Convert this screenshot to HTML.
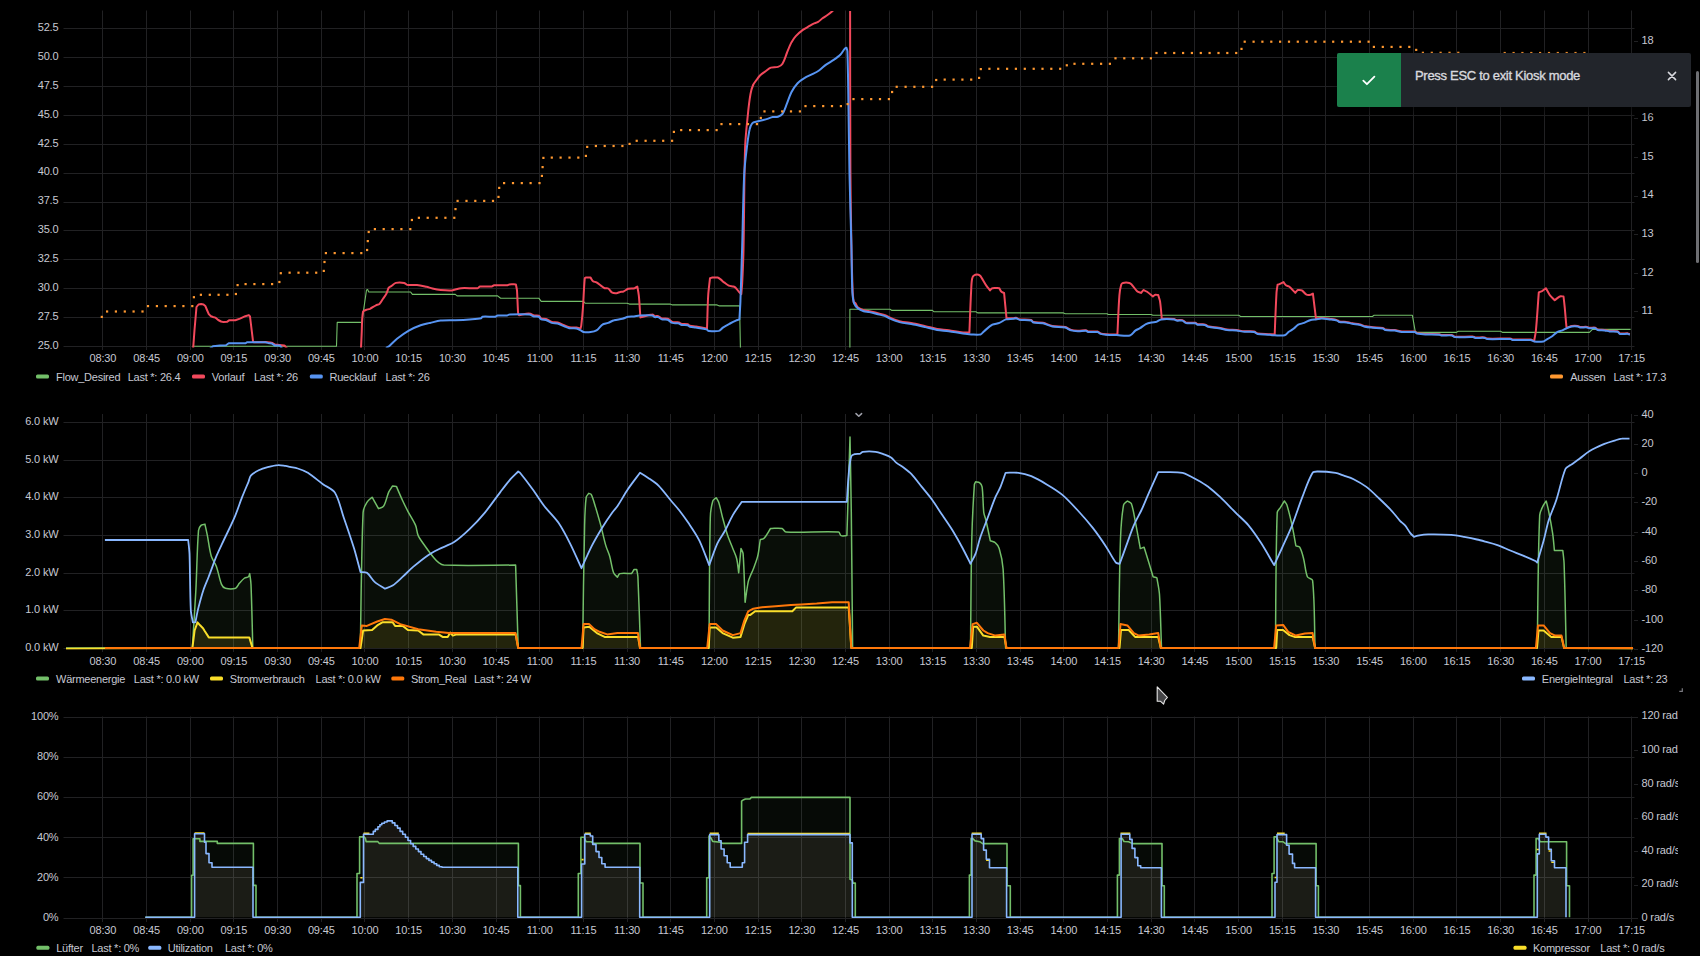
<!DOCTYPE html>
<html><head><meta charset="utf-8"><title>Grafana Kiosk</title>
<style>
html,body{margin:0;padding:0;background:#000;overflow:hidden;width:1700px;height:956px}
svg{display:block}
.ax{font-family:'Liberation Sans', Arial, sans-serif;font-size:11px;fill:#c7c8d2;letter-spacing:-0.15px}
.lg{font-family:'Liberation Sans', Arial, sans-serif;font-size:11px;fill:#c7c8d2;letter-spacing:-0.25px}
.toast{position:absolute;left:1337px;top:53px;width:354px;height:54px;background:#22252b;border-radius:2px;overflow:hidden;font-family:'Liberation Sans', Arial, sans-serif;box-shadow:0 4px 8px rgba(0,0,0,.6)}
.toast .ic{position:absolute;left:0;top:0;width:64px;height:54px;background:#1b814c}
.toast .msg{position:absolute;left:78px;top:15px;font-size:13px;color:#d8d9de;letter-spacing:-0.3px;white-space:nowrap;-webkit-text-stroke:0.35px #d8d9de}
.toast .x{position:absolute;left:328px;top:15.5px;width:14px;height:14px}
.sb{position:absolute;left:1696px;top:71px;width:3px;height:192px;background:#6e6f73;border-radius:2px}
</style></head><body>
<svg width="1700" height="956" viewBox="0 0 1700 956" style="position:absolute;left:0;top:0">
<defs><clipPath id="rclip"><rect x="1600" y="690" width="78" height="240"/></clipPath></defs>
<rect width="1700" height="956" fill="#000"/>
<line x1="102.50" y1="10.5" x2="102.50" y2="350" stroke="#212123"/>
<line x1="146.50" y1="10.5" x2="146.50" y2="350" stroke="#212123"/>
<line x1="190.50" y1="10.5" x2="190.50" y2="350" stroke="#212123"/>
<line x1="233.50" y1="10.5" x2="233.50" y2="350" stroke="#212123"/>
<line x1="277.50" y1="10.5" x2="277.50" y2="350" stroke="#212123"/>
<line x1="321.50" y1="10.5" x2="321.50" y2="350" stroke="#212123"/>
<line x1="364.50" y1="10.5" x2="364.50" y2="350" stroke="#212123"/>
<line x1="408.50" y1="10.5" x2="408.50" y2="350" stroke="#212123"/>
<line x1="452.50" y1="10.5" x2="452.50" y2="350" stroke="#212123"/>
<line x1="496.50" y1="10.5" x2="496.50" y2="350" stroke="#212123"/>
<line x1="539.50" y1="10.5" x2="539.50" y2="350" stroke="#212123"/>
<line x1="583.50" y1="10.5" x2="583.50" y2="350" stroke="#212123"/>
<line x1="627.50" y1="10.5" x2="627.50" y2="350" stroke="#212123"/>
<line x1="670.50" y1="10.5" x2="670.50" y2="350" stroke="#212123"/>
<line x1="714.50" y1="10.5" x2="714.50" y2="350" stroke="#212123"/>
<line x1="758.50" y1="10.5" x2="758.50" y2="350" stroke="#212123"/>
<line x1="801.50" y1="10.5" x2="801.50" y2="350" stroke="#212123"/>
<line x1="845.50" y1="10.5" x2="845.50" y2="350" stroke="#212123"/>
<line x1="889.50" y1="10.5" x2="889.50" y2="350" stroke="#212123"/>
<line x1="932.50" y1="10.5" x2="932.50" y2="350" stroke="#212123"/>
<line x1="976.50" y1="10.5" x2="976.50" y2="350" stroke="#212123"/>
<line x1="1020.50" y1="10.5" x2="1020.50" y2="350" stroke="#212123"/>
<line x1="1063.50" y1="10.5" x2="1063.50" y2="350" stroke="#212123"/>
<line x1="1107.50" y1="10.5" x2="1107.50" y2="350" stroke="#212123"/>
<line x1="1151.50" y1="10.5" x2="1151.50" y2="350" stroke="#212123"/>
<line x1="1194.50" y1="10.5" x2="1194.50" y2="350" stroke="#212123"/>
<line x1="1238.50" y1="10.5" x2="1238.50" y2="350" stroke="#212123"/>
<line x1="1282.50" y1="10.5" x2="1282.50" y2="350" stroke="#212123"/>
<line x1="1325.50" y1="10.5" x2="1325.50" y2="350" stroke="#212123"/>
<line x1="1369.50" y1="10.5" x2="1369.50" y2="350" stroke="#212123"/>
<line x1="1413.50" y1="10.5" x2="1413.50" y2="350" stroke="#212123"/>
<line x1="1456.50" y1="10.5" x2="1456.50" y2="350" stroke="#212123"/>
<line x1="1500.50" y1="10.5" x2="1500.50" y2="350" stroke="#212123"/>
<line x1="1544.50" y1="10.5" x2="1544.50" y2="350" stroke="#212123"/>
<line x1="1588.50" y1="10.5" x2="1588.50" y2="350" stroke="#212123"/>
<line x1="1631.50" y1="10.5" x2="1631.50" y2="350" stroke="#212123"/>
<line x1="63.5" y1="346.50" x2="1634.5" y2="346.50" stroke="#212123"/>
<line x1="63.5" y1="317.50" x2="1634.5" y2="317.50" stroke="#212123"/>
<line x1="63.5" y1="288.50" x2="1634.5" y2="288.50" stroke="#212123"/>
<line x1="63.5" y1="259.50" x2="1634.5" y2="259.50" stroke="#212123"/>
<line x1="63.5" y1="230.50" x2="1634.5" y2="230.50" stroke="#212123"/>
<line x1="63.5" y1="202.50" x2="1634.5" y2="202.50" stroke="#212123"/>
<line x1="63.5" y1="173.50" x2="1634.5" y2="173.50" stroke="#212123"/>
<line x1="63.5" y1="144.50" x2="1634.5" y2="144.50" stroke="#212123"/>
<line x1="63.5" y1="115.50" x2="1634.5" y2="115.50" stroke="#212123"/>
<line x1="63.5" y1="86.50" x2="1634.5" y2="86.50" stroke="#212123"/>
<line x1="63.5" y1="57.50" x2="1634.5" y2="57.50" stroke="#212123"/>
<line x1="63.5" y1="28.50" x2="1634.5" y2="28.50" stroke="#212123"/>
<text x="58.5" y="348.8" text-anchor="end" class="ax">25.0</text>
<text x="58.5" y="319.9" text-anchor="end" class="ax">27.5</text>
<text x="58.5" y="291.0" text-anchor="end" class="ax">30.0</text>
<text x="58.5" y="262.1" text-anchor="end" class="ax">32.5</text>
<text x="58.5" y="233.2" text-anchor="end" class="ax">35.0</text>
<text x="58.5" y="204.3" text-anchor="end" class="ax">37.5</text>
<text x="58.5" y="175.4" text-anchor="end" class="ax">40.0</text>
<text x="58.5" y="146.5" text-anchor="end" class="ax">42.5</text>
<text x="58.5" y="117.6" text-anchor="end" class="ax">45.0</text>
<text x="58.5" y="88.7" text-anchor="end" class="ax">47.5</text>
<text x="58.5" y="59.8" text-anchor="end" class="ax">50.0</text>
<text x="58.5" y="30.9" text-anchor="end" class="ax">52.5</text>
<line x1="1634" y1="311.5" x2="1638" y2="311.5" stroke="#212123"/>
<text x="1641.5" y="314.1" class="ax">11</text>
<line x1="1634" y1="273.5" x2="1638" y2="273.5" stroke="#212123"/>
<text x="1641.5" y="275.5" class="ax">12</text>
<line x1="1634" y1="234.5" x2="1638" y2="234.5" stroke="#212123"/>
<text x="1641.5" y="236.8" class="ax">13</text>
<line x1="1634" y1="196.5" x2="1638" y2="196.5" stroke="#212123"/>
<text x="1641.5" y="198.2" class="ax">14</text>
<line x1="1634" y1="157.5" x2="1638" y2="157.5" stroke="#212123"/>
<text x="1641.5" y="159.5" class="ax">15</text>
<line x1="1634" y1="118.5" x2="1638" y2="118.5" stroke="#212123"/>
<text x="1641.5" y="120.8" class="ax">16</text>
<line x1="1634" y1="80.5" x2="1638" y2="80.5" stroke="#212123"/>
<text x="1641.5" y="82.2" class="ax">17</text>
<line x1="1634" y1="41.5" x2="1638" y2="41.5" stroke="#212123"/>
<text x="1641.5" y="43.5" class="ax">18</text>
<text x="102.9" y="362" text-anchor="middle" class="ax">08:30</text>
<text x="146.6" y="362" text-anchor="middle" class="ax">08:45</text>
<text x="190.3" y="362" text-anchor="middle" class="ax">09:00</text>
<text x="233.9" y="362" text-anchor="middle" class="ax">09:15</text>
<text x="277.6" y="362" text-anchor="middle" class="ax">09:30</text>
<text x="321.3" y="362" text-anchor="middle" class="ax">09:45</text>
<text x="365.0" y="362" text-anchor="middle" class="ax">10:00</text>
<text x="408.7" y="362" text-anchor="middle" class="ax">10:15</text>
<text x="452.3" y="362" text-anchor="middle" class="ax">10:30</text>
<text x="496.0" y="362" text-anchor="middle" class="ax">10:45</text>
<text x="539.7" y="362" text-anchor="middle" class="ax">11:00</text>
<text x="583.4" y="362" text-anchor="middle" class="ax">11:15</text>
<text x="627.1" y="362" text-anchor="middle" class="ax">11:30</text>
<text x="670.7" y="362" text-anchor="middle" class="ax">11:45</text>
<text x="714.4" y="362" text-anchor="middle" class="ax">12:00</text>
<text x="758.1" y="362" text-anchor="middle" class="ax">12:15</text>
<text x="801.8" y="362" text-anchor="middle" class="ax">12:30</text>
<text x="845.5" y="362" text-anchor="middle" class="ax">12:45</text>
<text x="889.1" y="362" text-anchor="middle" class="ax">13:00</text>
<text x="932.8" y="362" text-anchor="middle" class="ax">13:15</text>
<text x="976.5" y="362" text-anchor="middle" class="ax">13:30</text>
<text x="1020.2" y="362" text-anchor="middle" class="ax">13:45</text>
<text x="1063.9" y="362" text-anchor="middle" class="ax">14:00</text>
<text x="1107.5" y="362" text-anchor="middle" class="ax">14:15</text>
<text x="1151.2" y="362" text-anchor="middle" class="ax">14:30</text>
<text x="1194.9" y="362" text-anchor="middle" class="ax">14:45</text>
<text x="1238.6" y="362" text-anchor="middle" class="ax">15:00</text>
<text x="1282.3" y="362" text-anchor="middle" class="ax">15:15</text>
<text x="1325.9" y="362" text-anchor="middle" class="ax">15:30</text>
<text x="1369.6" y="362" text-anchor="middle" class="ax">15:45</text>
<text x="1413.3" y="362" text-anchor="middle" class="ax">16:00</text>
<text x="1457.0" y="362" text-anchor="middle" class="ax">16:15</text>
<text x="1500.7" y="362" text-anchor="middle" class="ax">16:30</text>
<text x="1544.3" y="362" text-anchor="middle" class="ax">16:45</text>
<text x="1588.0" y="362" text-anchor="middle" class="ax">17:00</text>
<text x="1631.7" y="362" text-anchor="middle" class="ax">17:15</text>
<rect x="36" y="374.5" width="13" height="4" rx="1.5" fill="#73BF69"/>
<text x="56" y="381" class="lg">Flow_Desired</text>
<text x="127.7" y="381" class="lg">Last *: 26.4</text>
<rect x="192" y="374.5" width="13" height="4" rx="1.5" fill="#F2495C"/>
<text x="211.8" y="381" class="lg">Vorlauf</text>
<text x="254" y="381" class="lg">Last *: 26</text>
<rect x="309.8" y="374.5" width="13" height="4" rx="1.5" fill="#5794F2"/>
<text x="329.5" y="381" class="lg">Ruecklauf</text>
<text x="385.6" y="381" class="lg">Last *: 26</text>
<rect x="1550" y="374.5" width="13" height="4" rx="1.5" fill="#FF9830"/>
<text x="1570.2" y="381" class="lg">Aussen</text>
<text x="1613.5" y="381" class="lg">Last *: 17.3</text>
<line x1="102.50" y1="414" x2="102.50" y2="652" stroke="#212123"/>
<line x1="146.50" y1="414" x2="146.50" y2="652" stroke="#212123"/>
<line x1="190.50" y1="414" x2="190.50" y2="652" stroke="#212123"/>
<line x1="233.50" y1="414" x2="233.50" y2="652" stroke="#212123"/>
<line x1="277.50" y1="414" x2="277.50" y2="652" stroke="#212123"/>
<line x1="321.50" y1="414" x2="321.50" y2="652" stroke="#212123"/>
<line x1="364.50" y1="414" x2="364.50" y2="652" stroke="#212123"/>
<line x1="408.50" y1="414" x2="408.50" y2="652" stroke="#212123"/>
<line x1="452.50" y1="414" x2="452.50" y2="652" stroke="#212123"/>
<line x1="496.50" y1="414" x2="496.50" y2="652" stroke="#212123"/>
<line x1="539.50" y1="414" x2="539.50" y2="652" stroke="#212123"/>
<line x1="583.50" y1="414" x2="583.50" y2="652" stroke="#212123"/>
<line x1="627.50" y1="414" x2="627.50" y2="652" stroke="#212123"/>
<line x1="670.50" y1="414" x2="670.50" y2="652" stroke="#212123"/>
<line x1="714.50" y1="414" x2="714.50" y2="652" stroke="#212123"/>
<line x1="758.50" y1="414" x2="758.50" y2="652" stroke="#212123"/>
<line x1="801.50" y1="414" x2="801.50" y2="652" stroke="#212123"/>
<line x1="845.50" y1="414" x2="845.50" y2="652" stroke="#212123"/>
<line x1="889.50" y1="414" x2="889.50" y2="652" stroke="#212123"/>
<line x1="932.50" y1="414" x2="932.50" y2="652" stroke="#212123"/>
<line x1="976.50" y1="414" x2="976.50" y2="652" stroke="#212123"/>
<line x1="1020.50" y1="414" x2="1020.50" y2="652" stroke="#212123"/>
<line x1="1063.50" y1="414" x2="1063.50" y2="652" stroke="#212123"/>
<line x1="1107.50" y1="414" x2="1107.50" y2="652" stroke="#212123"/>
<line x1="1151.50" y1="414" x2="1151.50" y2="652" stroke="#212123"/>
<line x1="1194.50" y1="414" x2="1194.50" y2="652" stroke="#212123"/>
<line x1="1238.50" y1="414" x2="1238.50" y2="652" stroke="#212123"/>
<line x1="1282.50" y1="414" x2="1282.50" y2="652" stroke="#212123"/>
<line x1="1325.50" y1="414" x2="1325.50" y2="652" stroke="#212123"/>
<line x1="1369.50" y1="414" x2="1369.50" y2="652" stroke="#212123"/>
<line x1="1413.50" y1="414" x2="1413.50" y2="652" stroke="#212123"/>
<line x1="1456.50" y1="414" x2="1456.50" y2="652" stroke="#212123"/>
<line x1="1500.50" y1="414" x2="1500.50" y2="652" stroke="#212123"/>
<line x1="1544.50" y1="414" x2="1544.50" y2="652" stroke="#212123"/>
<line x1="1588.50" y1="414" x2="1588.50" y2="652" stroke="#212123"/>
<line x1="1631.50" y1="414" x2="1631.50" y2="652" stroke="#212123"/>
<line x1="63.5" y1="648.50" x2="1634.5" y2="648.50" stroke="#212123"/>
<line x1="63.5" y1="610.50" x2="1634.5" y2="610.50" stroke="#212123"/>
<line x1="63.5" y1="573.50" x2="1634.5" y2="573.50" stroke="#212123"/>
<line x1="63.5" y1="535.50" x2="1634.5" y2="535.50" stroke="#212123"/>
<line x1="63.5" y1="497.50" x2="1634.5" y2="497.50" stroke="#212123"/>
<line x1="63.5" y1="460.50" x2="1634.5" y2="460.50" stroke="#212123"/>
<line x1="63.5" y1="422.50" x2="1634.5" y2="422.50" stroke="#212123"/>
<text x="58.5" y="651.0" text-anchor="end" class="ax">0.0 kW</text>
<text x="58.5" y="613.3" text-anchor="end" class="ax">1.0 kW</text>
<text x="58.5" y="575.6" text-anchor="end" class="ax">2.0 kW</text>
<text x="58.5" y="538.0" text-anchor="end" class="ax">3.0 kW</text>
<text x="58.5" y="500.3" text-anchor="end" class="ax">4.0 kW</text>
<text x="58.5" y="462.6" text-anchor="end" class="ax">5.0 kW</text>
<text x="58.5" y="424.9" text-anchor="end" class="ax">6.0 kW</text>
<line x1="1634" y1="415.5" x2="1638" y2="415.5" stroke="#212123"/>
<text x="1641.5" y="417.5" class="ax">40</text>
<line x1="1634" y1="444.5" x2="1638" y2="444.5" stroke="#212123"/>
<text x="1641.5" y="446.8" class="ax">20</text>
<line x1="1634" y1="473.5" x2="1638" y2="473.5" stroke="#212123"/>
<text x="1641.5" y="476.1" class="ax">0</text>
<line x1="1634" y1="502.5" x2="1638" y2="502.5" stroke="#212123"/>
<text x="1641.5" y="505.4" class="ax">-20</text>
<line x1="1634" y1="532.5" x2="1638" y2="532.5" stroke="#212123"/>
<text x="1641.5" y="534.8" class="ax">-40</text>
<line x1="1634" y1="561.5" x2="1638" y2="561.5" stroke="#212123"/>
<text x="1641.5" y="564.1" class="ax">-60</text>
<line x1="1634" y1="590.5" x2="1638" y2="590.5" stroke="#212123"/>
<text x="1641.5" y="593.4" class="ax">-80</text>
<line x1="1634" y1="620.5" x2="1638" y2="620.5" stroke="#212123"/>
<text x="1641.5" y="622.7" class="ax">-100</text>
<line x1="1634" y1="649.5" x2="1638" y2="649.5" stroke="#212123"/>
<text x="1641.5" y="652.0" class="ax">-120</text>
<text x="102.9" y="665" text-anchor="middle" class="ax">08:30</text>
<text x="146.6" y="665" text-anchor="middle" class="ax">08:45</text>
<text x="190.3" y="665" text-anchor="middle" class="ax">09:00</text>
<text x="233.9" y="665" text-anchor="middle" class="ax">09:15</text>
<text x="277.6" y="665" text-anchor="middle" class="ax">09:30</text>
<text x="321.3" y="665" text-anchor="middle" class="ax">09:45</text>
<text x="365.0" y="665" text-anchor="middle" class="ax">10:00</text>
<text x="408.7" y="665" text-anchor="middle" class="ax">10:15</text>
<text x="452.3" y="665" text-anchor="middle" class="ax">10:30</text>
<text x="496.0" y="665" text-anchor="middle" class="ax">10:45</text>
<text x="539.7" y="665" text-anchor="middle" class="ax">11:00</text>
<text x="583.4" y="665" text-anchor="middle" class="ax">11:15</text>
<text x="627.1" y="665" text-anchor="middle" class="ax">11:30</text>
<text x="670.7" y="665" text-anchor="middle" class="ax">11:45</text>
<text x="714.4" y="665" text-anchor="middle" class="ax">12:00</text>
<text x="758.1" y="665" text-anchor="middle" class="ax">12:15</text>
<text x="801.8" y="665" text-anchor="middle" class="ax">12:30</text>
<text x="845.5" y="665" text-anchor="middle" class="ax">12:45</text>
<text x="889.1" y="665" text-anchor="middle" class="ax">13:00</text>
<text x="932.8" y="665" text-anchor="middle" class="ax">13:15</text>
<text x="976.5" y="665" text-anchor="middle" class="ax">13:30</text>
<text x="1020.2" y="665" text-anchor="middle" class="ax">13:45</text>
<text x="1063.9" y="665" text-anchor="middle" class="ax">14:00</text>
<text x="1107.5" y="665" text-anchor="middle" class="ax">14:15</text>
<text x="1151.2" y="665" text-anchor="middle" class="ax">14:30</text>
<text x="1194.9" y="665" text-anchor="middle" class="ax">14:45</text>
<text x="1238.6" y="665" text-anchor="middle" class="ax">15:00</text>
<text x="1282.3" y="665" text-anchor="middle" class="ax">15:15</text>
<text x="1325.9" y="665" text-anchor="middle" class="ax">15:30</text>
<text x="1369.6" y="665" text-anchor="middle" class="ax">15:45</text>
<text x="1413.3" y="665" text-anchor="middle" class="ax">16:00</text>
<text x="1457.0" y="665" text-anchor="middle" class="ax">16:15</text>
<text x="1500.7" y="665" text-anchor="middle" class="ax">16:30</text>
<text x="1544.3" y="665" text-anchor="middle" class="ax">16:45</text>
<text x="1588.0" y="665" text-anchor="middle" class="ax">17:00</text>
<text x="1631.7" y="665" text-anchor="middle" class="ax">17:15</text>
<rect x="36" y="676.5" width="13" height="4" rx="1.5" fill="#73BF69"/>
<text x="56" y="683" class="lg">Wärmeenergie</text>
<text x="133.8" y="683" class="lg">Last *: 0.0 kW</text>
<rect x="210" y="676.5" width="13" height="4" rx="1.5" fill="#FADE2A"/>
<text x="229.8" y="683" class="lg">Stromverbrauch</text>
<text x="315.6" y="683" class="lg">Last *: 0.0 kW</text>
<rect x="391.3" y="676.5" width="13" height="4" rx="1.5" fill="#FF780A"/>
<text x="410.9" y="683" class="lg">Strom_Real</text>
<text x="474" y="683" class="lg">Last *: 24 W</text>
<rect x="1522" y="676.5" width="13" height="4" rx="1.5" fill="#8AB8FF"/>
<text x="1541.8" y="683" class="lg">EnergieIntegral</text>
<text x="1623.5" y="683" class="lg">Last *: 23</text>
<line x1="102.50" y1="716.5" x2="102.50" y2="922" stroke="#212123"/>
<line x1="146.50" y1="716.5" x2="146.50" y2="922" stroke="#212123"/>
<line x1="190.50" y1="716.5" x2="190.50" y2="922" stroke="#212123"/>
<line x1="233.50" y1="716.5" x2="233.50" y2="922" stroke="#212123"/>
<line x1="277.50" y1="716.5" x2="277.50" y2="922" stroke="#212123"/>
<line x1="321.50" y1="716.5" x2="321.50" y2="922" stroke="#212123"/>
<line x1="364.50" y1="716.5" x2="364.50" y2="922" stroke="#212123"/>
<line x1="408.50" y1="716.5" x2="408.50" y2="922" stroke="#212123"/>
<line x1="452.50" y1="716.5" x2="452.50" y2="922" stroke="#212123"/>
<line x1="496.50" y1="716.5" x2="496.50" y2="922" stroke="#212123"/>
<line x1="539.50" y1="716.5" x2="539.50" y2="922" stroke="#212123"/>
<line x1="583.50" y1="716.5" x2="583.50" y2="922" stroke="#212123"/>
<line x1="627.50" y1="716.5" x2="627.50" y2="922" stroke="#212123"/>
<line x1="670.50" y1="716.5" x2="670.50" y2="922" stroke="#212123"/>
<line x1="714.50" y1="716.5" x2="714.50" y2="922" stroke="#212123"/>
<line x1="758.50" y1="716.5" x2="758.50" y2="922" stroke="#212123"/>
<line x1="801.50" y1="716.5" x2="801.50" y2="922" stroke="#212123"/>
<line x1="845.50" y1="716.5" x2="845.50" y2="922" stroke="#212123"/>
<line x1="889.50" y1="716.5" x2="889.50" y2="922" stroke="#212123"/>
<line x1="932.50" y1="716.5" x2="932.50" y2="922" stroke="#212123"/>
<line x1="976.50" y1="716.5" x2="976.50" y2="922" stroke="#212123"/>
<line x1="1020.50" y1="716.5" x2="1020.50" y2="922" stroke="#212123"/>
<line x1="1063.50" y1="716.5" x2="1063.50" y2="922" stroke="#212123"/>
<line x1="1107.50" y1="716.5" x2="1107.50" y2="922" stroke="#212123"/>
<line x1="1151.50" y1="716.5" x2="1151.50" y2="922" stroke="#212123"/>
<line x1="1194.50" y1="716.5" x2="1194.50" y2="922" stroke="#212123"/>
<line x1="1238.50" y1="716.5" x2="1238.50" y2="922" stroke="#212123"/>
<line x1="1282.50" y1="716.5" x2="1282.50" y2="922" stroke="#212123"/>
<line x1="1325.50" y1="716.5" x2="1325.50" y2="922" stroke="#212123"/>
<line x1="1369.50" y1="716.5" x2="1369.50" y2="922" stroke="#212123"/>
<line x1="1413.50" y1="716.5" x2="1413.50" y2="922" stroke="#212123"/>
<line x1="1456.50" y1="716.5" x2="1456.50" y2="922" stroke="#212123"/>
<line x1="1500.50" y1="716.5" x2="1500.50" y2="922" stroke="#212123"/>
<line x1="1544.50" y1="716.5" x2="1544.50" y2="922" stroke="#212123"/>
<line x1="1588.50" y1="716.5" x2="1588.50" y2="922" stroke="#212123"/>
<line x1="1631.50" y1="716.5" x2="1631.50" y2="922" stroke="#212123"/>
<line x1="63.5" y1="918.50" x2="1634.5" y2="918.50" stroke="#212123"/>
<line x1="63.5" y1="877.50" x2="1634.5" y2="877.50" stroke="#212123"/>
<line x1="63.5" y1="837.50" x2="1634.5" y2="837.50" stroke="#212123"/>
<line x1="63.5" y1="797.50" x2="1634.5" y2="797.50" stroke="#212123"/>
<line x1="63.5" y1="757.50" x2="1634.5" y2="757.50" stroke="#212123"/>
<line x1="63.5" y1="717.50" x2="1634.5" y2="717.50" stroke="#212123"/>
<text x="58.5" y="921.0" text-anchor="end" class="ax">0%</text>
<text x="58.5" y="880.8" text-anchor="end" class="ax">20%</text>
<text x="58.5" y="840.6" text-anchor="end" class="ax">40%</text>
<text x="58.5" y="800.4" text-anchor="end" class="ax">60%</text>
<text x="58.5" y="760.2" text-anchor="end" class="ax">80%</text>
<text x="58.5" y="720.0" text-anchor="end" class="ax">100%</text>
<line x1="1634" y1="918.5" x2="1638" y2="918.5" stroke="#212123"/>
<text x="1641.5" y="920.8" class="ax" clip-path="url(#rclip)">0 rad/s</text>
<line x1="1634" y1="885.5" x2="1638" y2="885.5" stroke="#212123"/>
<text x="1641.5" y="887.2" class="ax" clip-path="url(#rclip)">20 rad/s</text>
<line x1="1634" y1="851.5" x2="1638" y2="851.5" stroke="#212123"/>
<text x="1641.5" y="853.7" class="ax" clip-path="url(#rclip)">40 rad/s</text>
<line x1="1634" y1="818.5" x2="1638" y2="818.5" stroke="#212123"/>
<text x="1641.5" y="820.1" class="ax" clip-path="url(#rclip)">60 rad/s</text>
<line x1="1634" y1="784.5" x2="1638" y2="784.5" stroke="#212123"/>
<text x="1641.5" y="786.5" class="ax" clip-path="url(#rclip)">80 rad/s</text>
<line x1="1634" y1="750.5" x2="1638" y2="750.5" stroke="#212123"/>
<text x="1641.5" y="753.0" class="ax" clip-path="url(#rclip)">100 rad/s</text>
<line x1="1634" y1="717.5" x2="1638" y2="717.5" stroke="#212123"/>
<text x="1641.5" y="719.4" class="ax" clip-path="url(#rclip)">120 rad/s</text>
<text x="102.9" y="934" text-anchor="middle" class="ax">08:30</text>
<text x="146.6" y="934" text-anchor="middle" class="ax">08:45</text>
<text x="190.3" y="934" text-anchor="middle" class="ax">09:00</text>
<text x="233.9" y="934" text-anchor="middle" class="ax">09:15</text>
<text x="277.6" y="934" text-anchor="middle" class="ax">09:30</text>
<text x="321.3" y="934" text-anchor="middle" class="ax">09:45</text>
<text x="365.0" y="934" text-anchor="middle" class="ax">10:00</text>
<text x="408.7" y="934" text-anchor="middle" class="ax">10:15</text>
<text x="452.3" y="934" text-anchor="middle" class="ax">10:30</text>
<text x="496.0" y="934" text-anchor="middle" class="ax">10:45</text>
<text x="539.7" y="934" text-anchor="middle" class="ax">11:00</text>
<text x="583.4" y="934" text-anchor="middle" class="ax">11:15</text>
<text x="627.1" y="934" text-anchor="middle" class="ax">11:30</text>
<text x="670.7" y="934" text-anchor="middle" class="ax">11:45</text>
<text x="714.4" y="934" text-anchor="middle" class="ax">12:00</text>
<text x="758.1" y="934" text-anchor="middle" class="ax">12:15</text>
<text x="801.8" y="934" text-anchor="middle" class="ax">12:30</text>
<text x="845.5" y="934" text-anchor="middle" class="ax">12:45</text>
<text x="889.1" y="934" text-anchor="middle" class="ax">13:00</text>
<text x="932.8" y="934" text-anchor="middle" class="ax">13:15</text>
<text x="976.5" y="934" text-anchor="middle" class="ax">13:30</text>
<text x="1020.2" y="934" text-anchor="middle" class="ax">13:45</text>
<text x="1063.9" y="934" text-anchor="middle" class="ax">14:00</text>
<text x="1107.5" y="934" text-anchor="middle" class="ax">14:15</text>
<text x="1151.2" y="934" text-anchor="middle" class="ax">14:30</text>
<text x="1194.9" y="934" text-anchor="middle" class="ax">14:45</text>
<text x="1238.6" y="934" text-anchor="middle" class="ax">15:00</text>
<text x="1282.3" y="934" text-anchor="middle" class="ax">15:15</text>
<text x="1325.9" y="934" text-anchor="middle" class="ax">15:30</text>
<text x="1369.6" y="934" text-anchor="middle" class="ax">15:45</text>
<text x="1413.3" y="934" text-anchor="middle" class="ax">16:00</text>
<text x="1457.0" y="934" text-anchor="middle" class="ax">16:15</text>
<text x="1500.7" y="934" text-anchor="middle" class="ax">16:30</text>
<text x="1544.3" y="934" text-anchor="middle" class="ax">16:45</text>
<text x="1588.0" y="934" text-anchor="middle" class="ax">17:00</text>
<text x="1631.7" y="934" text-anchor="middle" class="ax">17:15</text>
<rect x="36.4" y="945.8" width="13" height="4" rx="1.5" fill="#73BF69"/>
<text x="56.2" y="952.3" class="lg">Lüfter</text>
<text x="91.5" y="952.3" class="lg">Last *: 0%</text>
<rect x="148.3" y="945.8" width="13" height="4" rx="1.5" fill="#8AB8FF"/>
<text x="167.7" y="952.3" class="lg">Utilization</text>
<text x="224.9" y="952.3" class="lg">Last *: 0%</text>
<rect x="1513.5" y="945.8" width="13" height="4" rx="1.5" fill="#FADE2A"/>
<text x="1533" y="952.3" class="lg">Kompressor</text>
<text x="1600.3" y="952.3" class="lg">Last *: 0 rad/s</text>
<defs><clipPath id="c1"><rect x="63" y="11" width="1571" height="336.5"/></clipPath><clipPath id="c2"><rect x="63" y="413" width="1571" height="236.5"/></clipPath><clipPath id="c3"><rect x="63" y="716" width="1571" height="202.5"/></clipPath></defs>
<g clip-path="url(#c1)">
<polyline points="192.4,346.3 336.5,346.3 337.2,322.4 361.8,322.4 366.5,290.0 367.6,289.6 368.8,292.0 410.6,292.0 412.4,294.4 455.3,294.4 457.1,295.9 497.6,295.9 500.6,298.2 538.8,298.2 541.2,301.4 583.5,301.4 585.3,303.3 627.1,303.3 629.4,304.1 670.0,304.1 672.4,304.9 717.1,304.9 719.4,305.9 739.6,305.9 740.4,347.5 741.0,350.0 849.5,350.0 849.9,347.5 849.9,309.3 890.0,309.3 891.9,310.4 932.4,310.4 934.1,311.8 975.9,311.8 977.6,312.9 1063.5,312.9 1065.3,313.7 1107.1,313.7 1108.2,314.5 1151.2,314.5 1152.9,315.3 1238.8,315.3 1240.6,316.5 1372.4,316.5 1374.1,315.3 1412.4,315.3 1415.3,331.8 1417.1,332.4 1456.5,332.4 1458.2,331.2 1500.6,331.2 1502.4,332.4 1589.4,332.4 1592.4,329.4 1630.6,329.4" fill="none" stroke="#73BF69" stroke-width="1.1" stroke-linejoin="round"/>
<polyline points="193.2,348.0 194.5,330.0 196.5,307.0 198.5,304.5 201.2,304.1 203.5,304.4 205.3,305.9 207.0,310.0 208.8,314.1 211.0,316.3 213.0,317.0 215.3,317.6 218.2,320.0 221.0,321.5 223.5,322.1 227.0,321.8 229.4,320.2 235.3,320.2 240.0,318.6 245.3,316.2 248.8,315.1 250.0,316.5 253.0,341.2 253.6,342.2 265.4,342.0 270.0,342.4 272.5,343.0 275.0,344.6 279.5,345.0 284.4,345.5 287.0,348.5" fill="none" stroke="#F2495C" stroke-width="2" stroke-linejoin="round"/>
<path d="M361.0,348.0 C361.2,344.1 361.4,338.9 361.6,335.0 C362.0,328.0 361.8,318.7 363.0,311.8 C363.2,310.8 365.0,310.4 365.9,310.0 C367.1,309.5 368.8,309.3 370.0,308.8 C371.9,307.9 374.1,306.2 375.9,305.3 C376.9,304.8 378.6,304.8 379.4,304.1 C380.8,302.8 381.9,300.4 383.0,298.8 C384.1,297.2 385.6,295.2 386.5,293.5 C387.4,291.8 387.8,289.2 388.8,287.6 C389.3,286.9 390.5,286.6 391.2,286.1 C392.6,285.2 394.2,283.3 395.9,282.9 C398.3,282.3 401.7,282.5 404.1,282.9 C405.1,283.1 406.0,284.5 407.0,284.7 C410.0,285.2 414.0,284.7 417.0,285.0 C419.9,285.3 423.7,286.2 426.5,286.8 C428.3,287.2 430.6,288.1 432.4,288.5 C434.8,289.1 438.1,289.8 440.6,290.0 C443.9,290.3 448.5,290.7 451.8,290.4 C454.7,290.1 458.3,288.4 461.2,288.2 C466.1,287.8 472.7,288.6 477.6,288.2 C478.5,288.1 479.1,286.6 480.0,286.5 C483.5,286.1 488.3,286.8 491.8,286.5 C492.6,286.4 493.3,285.4 494.1,285.3 C498.0,285.0 503.1,285.5 507.0,285.3 C507.8,285.3 508.6,284.5 509.4,284.4 C511.3,284.2 513.9,284.4 515.9,284.4 C516.2,286.3 516.9,288.7 517.0,290.6 C517.5,297.6 517.6,307.1 518.2,314.1 C518.2,314.5 518.8,314.9 519.0,315.2 C522.1,314.7 526.2,313.4 529.4,313.5 C530.9,313.5 532.6,315.1 534.1,315.5 C535.5,315.8 537.5,315.3 538.8,315.8 C539.8,316.2 540.2,318.0 541.2,318.4 C542.5,319.0 544.6,318.6 545.9,319.0 C547.8,319.6 549.9,321.3 551.8,321.9 C553.5,322.4 555.9,322.0 557.6,322.5 C559.8,323.1 562.6,324.6 564.7,325.5 C566.1,326.1 567.9,326.9 569.4,327.2 C571.5,327.6 574.4,327.3 576.5,327.5 C577.7,327.6 579.3,328.2 580.5,328.5 C580.7,327.7 581.1,326.7 581.2,325.9 C581.9,320.2 582.6,312.7 583.0,307.0 C583.6,298.5 583.9,287.2 584.7,278.8 C584.7,278.3 585.4,277.7 585.9,277.6 C587.3,277.3 589.2,277.6 590.6,277.6 C591.3,278.7 592.0,280.4 593.0,281.2 C593.9,281.9 595.5,281.8 596.5,282.4 C598.0,283.3 599.8,284.9 601.2,285.9 C602.2,286.6 603.5,287.8 604.7,288.2 C605.7,288.6 607.3,288.0 608.2,288.5 C609.6,289.3 610.4,291.6 611.8,292.4 C613.0,293.1 615.1,293.3 616.5,293.2 C617.6,293.1 618.9,292.3 620.0,292.0 C621.0,291.7 622.5,291.9 623.5,291.5 C625.0,290.9 626.6,289.3 628.2,288.8 C630.1,288.2 632.8,288.7 634.7,288.2 C635.6,288.0 636.5,287.0 637.3,286.5 C637.8,289.1 638.5,292.6 638.8,295.3 C639.5,301.9 639.9,310.8 640.4,317.4 C644.0,316.5 648.7,314.8 652.4,314.5 C653.2,314.4 653.9,315.9 654.7,316.1 C655.7,316.4 657.2,315.8 658.2,316.1 C659.4,316.5 660.6,318.0 661.8,318.4 C663.5,318.9 665.9,318.3 667.6,318.8 C669.2,319.3 670.8,321.4 672.4,321.9 C674.1,322.4 676.5,321.9 678.2,322.3 C679.4,322.5 680.6,323.7 681.8,323.9 C683.5,324.3 685.9,323.9 687.6,324.3 C688.4,324.5 689.2,325.6 690.0,325.8 C691.7,326.3 694.1,326.3 695.9,326.6 C699.1,327.1 703.3,327.8 706.5,328.4 C706.7,328.4 706.9,328.7 707.0,328.8 C707.4,318.8 707.6,305.3 708.2,295.3 C708.5,290.2 709.5,283.3 710.0,278.2 C710.7,278.0 711.7,277.7 712.4,277.6 C714.0,277.5 716.1,277.3 717.6,277.6 C718.6,277.8 719.8,278.8 720.6,279.4 C721.7,280.2 723.0,281.6 724.1,282.4 C725.5,283.4 727.2,284.9 728.8,285.6 C730.1,286.2 732.1,286.1 733.5,286.5 C734.2,286.7 735.1,287.2 735.6,287.7 C736.9,289.0 738.2,291.0 739.4,292.4 C739.9,293.0 740.7,293.7 741.3,294.2 C741.6,290.8 742.0,286.4 742.2,283.0 C742.7,273.1 743.3,259.9 743.5,250.0 C744.2,219.2 744.1,178.1 745.1,147.3 C745.4,137.7 746.8,124.9 747.8,115.3 C748.4,108.9 749.4,100.3 750.5,94.0 C751.0,91.2 752.0,87.6 753.1,85.0 C753.9,83.2 755.6,81.3 756.7,79.7 C757.7,78.3 759.0,76.5 760.2,75.3 C761.7,73.9 763.9,72.4 765.6,71.2 C767.2,70.1 769.1,68.2 770.9,67.6 C772.9,66.9 776.0,67.6 778.0,66.9 C779.6,66.4 781.6,65.1 782.5,63.7 C784.4,60.8 785.6,56.2 786.9,53.0 C788.2,49.8 789.8,45.5 791.4,42.4 C792.5,40.4 794.2,37.8 795.8,36.1 C797.7,34.0 800.6,31.6 802.9,29.9 C804.4,28.8 806.7,27.6 808.3,26.7 C809.9,25.8 812.0,24.5 813.6,23.7 C814.9,23.1 816.9,22.7 818.1,21.9 C819.6,21.0 821.1,19.3 822.5,18.3 C824.0,17.2 826.3,15.9 827.8,14.8 C829.2,13.8 831.0,12.3 832.3,11.2 C833.4,10.3 834.6,8.5 836.0,8.0 C840.1,6.6 845.9,5.9 850.1,5.0 C850.2,54.5 850.1,120.5 850.4,170.0 C850.5,192.6 851.0,222.7 851.4,245.3 C851.7,259.4 852.1,278.3 852.7,292.4 C852.8,295.4 853.4,299.5 853.7,302.5 C854.2,302.6 854.9,302.6 855.2,303.0 C856.2,304.2 856.8,306.4 858.0,307.4 C859.5,308.6 861.9,309.6 863.7,310.2 C865.3,310.7 867.6,310.7 869.3,311.1 C871.6,311.6 874.5,312.4 876.8,313.0 C879.1,313.6 882.2,314.1 884.4,314.9 C886.2,315.5 888.3,317.0 890.0,317.7 C892.8,318.8 896.5,320.4 899.4,321.1 C903.6,322.1 909.3,322.7 913.5,323.5 C917.1,324.2 921.8,325.3 925.3,326.1 C928.9,326.9 933.5,328.4 937.1,329.0 C940.6,329.6 945.3,329.7 948.8,330.2 C953.0,330.8 958.6,332.0 962.9,332.5 C964.8,332.7 967.4,332.4 969.4,332.4 C969.9,319.5 970.5,302.3 971.2,289.4 C971.4,285.8 971.4,281.0 972.4,277.6 C972.7,276.4 974.1,275.1 975.3,274.7 C976.5,274.3 978.4,274.4 979.4,275.1 C980.9,276.1 981.9,278.5 982.9,280.0 C984.0,281.7 985.3,284.2 986.5,285.9 C987.5,287.3 989.0,289.0 990.0,290.4 C990.7,289.7 991.4,288.4 992.4,288.2 C994.4,287.7 997.3,288.2 999.4,288.2 C999.9,289.2 1000.4,290.7 1001.2,291.5 C1001.9,292.2 1003.2,292.6 1004.1,293.0 C1004.8,300.6 1005.8,310.6 1006.5,318.2 C1008.6,318.2 1011.4,318.4 1013.5,318.3 C1014.2,318.3 1015.2,317.6 1015.9,317.7 C1017.0,317.9 1018.3,319.1 1019.4,319.3 C1022.9,319.8 1027.7,319.4 1031.2,320.1 C1032.1,320.3 1032.6,321.9 1033.5,322.1 C1036.3,322.7 1040.1,322.2 1042.9,322.8 C1045.8,323.4 1049.4,325.4 1052.4,326.0 C1056.2,326.7 1061.5,326.3 1065.3,327.1 C1067.2,327.5 1069.3,329.4 1071.2,329.9 C1073.2,330.5 1076.1,330.6 1078.2,330.7 C1080.5,330.8 1083.6,330.1 1085.9,330.3 C1086.7,330.4 1087.4,331.4 1088.2,331.5 C1091.0,331.8 1094.8,331.1 1097.6,331.5 C1098.7,331.7 1099.6,333.1 1100.6,333.4 C1102.1,333.9 1104.3,334.1 1105.9,334.2 C1109.1,334.4 1113.3,334.5 1116.5,334.6 C1116.8,334.6 1117.1,334.7 1117.4,334.7 C1118.0,322.9 1118.5,307.1 1119.4,295.3 C1119.6,292.1 1120.3,287.8 1121.2,284.7 C1121.4,284.0 1122.2,283.1 1122.9,282.9 C1124.8,282.5 1127.5,282.5 1129.4,282.9 C1130.3,283.1 1131.2,284.0 1131.8,284.7 C1133.5,286.5 1135.2,289.5 1137.1,291.2 C1138.1,292.1 1140.0,292.4 1141.2,292.9 C1141.9,292.0 1142.8,290.9 1143.5,290.0 C1144.6,290.5 1146.1,291.1 1147.1,291.8 C1148.9,293.1 1151.2,295.1 1152.9,296.5 C1153.6,296.0 1154.4,294.9 1155.3,294.7 C1156.1,294.5 1157.3,295.0 1158.2,295.1 C1158.7,296.9 1159.7,299.3 1160.0,301.2 C1160.8,306.4 1161.3,313.5 1161.8,318.8 C1165.5,318.8 1170.4,318.6 1174.1,318.9 C1174.9,319.0 1175.7,320.0 1176.5,320.1 C1178.3,320.4 1180.7,319.7 1182.4,320.1 C1183.6,320.4 1184.7,322.1 1185.9,322.4 C1188.7,323.0 1192.5,322.4 1195.3,322.8 C1196.1,322.9 1196.8,324.1 1197.6,324.2 C1199.7,324.6 1202.6,324.0 1204.7,324.4 C1205.9,324.6 1207.0,326.0 1208.2,326.3 C1211.3,327.0 1215.6,327.2 1218.8,327.7 C1221.3,328.1 1224.6,329.2 1227.1,329.5 C1229.9,329.9 1233.7,329.8 1236.5,330.1 C1239.0,330.4 1242.2,331.1 1244.7,331.3 C1247.5,331.5 1251.3,331.0 1254.1,331.5 C1255.3,331.7 1256.4,333.2 1257.6,333.4 C1260.7,334.0 1265.0,334.0 1268.2,334.2 C1270.1,334.3 1272.8,334.3 1274.7,334.4 C1275.2,321.9 1275.8,305.3 1276.5,292.9 C1276.6,290.4 1277.3,287.2 1277.6,284.7 C1278.1,284.5 1278.9,284.3 1279.4,284.1 C1280.7,283.5 1282.3,282.7 1283.5,282.1 C1284.2,283.1 1285.0,284.6 1285.9,285.3 C1286.8,286.0 1288.5,286.1 1289.4,286.8 C1291.4,288.4 1293.5,291.1 1295.3,292.9 C1296.0,292.0 1296.9,290.9 1297.6,290.0 C1298.9,290.1 1300.7,289.8 1301.8,290.4 C1303.5,291.3 1304.8,293.9 1306.5,294.7 C1307.6,295.2 1309.4,294.9 1310.6,294.7 C1311.4,294.6 1312.2,293.9 1312.9,293.5 C1313.8,300.9 1315.0,310.8 1315.9,318.2 C1317.7,318.2 1320.0,318.0 1321.8,318.1 C1324.3,318.2 1327.5,318.6 1330.0,318.9 C1332.1,319.2 1335.0,319.5 1337.1,320.1 C1337.9,320.3 1338.6,321.4 1339.4,321.6 C1341.5,322.0 1344.4,321.6 1346.5,321.9 C1348.3,322.1 1350.6,323.0 1352.4,323.3 C1354.5,323.7 1357.3,323.7 1359.4,324.2 C1360.9,324.5 1362.6,325.6 1364.1,326.0 C1366.2,326.5 1369.1,326.9 1371.2,327.1 C1374.7,327.5 1379.4,327.4 1382.9,328.0 C1383.7,328.1 1384.5,329.4 1385.3,329.5 C1388.1,330.0 1391.9,329.8 1394.7,330.1 C1396.9,330.4 1399.6,331.3 1401.8,331.5 C1405.7,331.8 1410.8,331.1 1414.7,331.5 C1415.5,331.6 1416.3,332.8 1417.1,333.0 C1419.5,333.5 1422.8,333.8 1425.3,333.9 C1429.5,334.1 1435.2,333.9 1439.4,334.2 C1440.2,334.3 1441.0,335.0 1441.8,335.0 C1444.8,335.2 1448.8,334.6 1451.8,335.0 C1452.8,335.1 1453.7,336.5 1454.7,336.6 C1460.1,337.0 1467.4,336.4 1472.9,336.6 C1473.7,336.6 1474.5,337.3 1475.3,337.4 C1478.1,337.6 1481.9,337.1 1484.7,337.4 C1485.5,337.5 1486.3,338.6 1487.1,338.6 C1494.1,338.9 1503.6,338.4 1510.6,338.6 C1511.3,338.6 1512.2,339.5 1512.9,339.5 C1518.2,339.7 1525.3,339.1 1530.6,339.5 C1531.8,339.6 1533.0,340.7 1534.1,341.2 C1534.6,338.0 1535.6,333.8 1535.9,330.6 C1537.0,319.2 1537.9,303.9 1538.8,292.4 C1539.9,291.9 1541.4,291.4 1542.4,290.8 C1543.5,290.1 1544.9,289.0 1545.9,288.2 C1546.4,289.1 1547.1,290.3 1547.6,291.2 C1548.3,292.4 1549.1,294.2 1550.0,295.3 C1551.3,296.9 1553.3,298.7 1554.7,300.2 C1555.9,299.3 1557.5,298.0 1558.8,297.1 C1559.3,296.8 1560.0,296.3 1560.6,296.2 C1561.5,296.1 1562.6,296.4 1563.5,296.5 C1563.9,299.7 1564.4,303.9 1564.7,307.1 C1565.3,313.1 1565.8,321.1 1566.5,327.1 C1566.5,327.3 1566.9,327.5 1567.1,327.5 C1568.5,327.2 1570.3,326.2 1571.8,326.0 C1573.5,325.8 1575.9,325.8 1577.6,326.0 C1578.4,326.1 1579.2,326.8 1580.0,326.9 C1582.1,327.1 1585.0,326.7 1587.1,326.9 C1587.8,327.0 1588.7,327.6 1589.4,327.7 C1591.2,327.9 1593.6,327.3 1595.3,327.7 C1596.2,327.9 1596.7,329.3 1597.6,329.5 C1599.7,330.0 1602.6,329.6 1604.7,329.9 C1606.1,330.1 1608.0,330.7 1609.4,330.9 C1611.8,331.2 1615.2,330.7 1617.6,331.3 C1618.5,331.5 1619.1,333.2 1620.0,333.4 C1622.4,333.9 1625.7,333.2 1628.2,333.4 C1628.7,333.4 1629.3,334.0 1629.8,334.2" fill="none" stroke="#F2495C" stroke-width="2" stroke-linejoin="round"/>
<polyline points="210.0,348.5 213.0,346.2 220.0,345.5 226.0,345.2 228.7,343.3 245.6,343.3 247.0,342.2 265.4,342.2 268.0,342.9 271.7,343.4 274.6,345.4 280.0,345.6 282.0,348.5" fill="none" stroke="#5794F2" stroke-width="2" stroke-linejoin="round"/>
<path d="M386.0,348.0 C387.0,347.4 388.5,346.7 389.4,345.9 C391.8,343.9 394.6,340.7 397.0,338.8 C400.4,336.1 405.1,332.7 408.8,330.6 C412.2,328.7 417.0,326.6 420.6,325.3 C423.3,324.3 427.2,323.6 430.0,322.9 C433.2,322.2 437.4,320.9 440.6,320.6 C445.0,320.1 450.9,320.4 455.3,320.2 C459.5,320.0 465.2,319.7 469.4,319.4 C472.9,319.1 477.7,318.9 481.2,318.2 C481.8,318.1 481.8,316.8 482.4,316.7 C486.2,316.3 491.4,317.0 495.3,316.7 C496.1,316.6 496.8,315.6 497.6,315.5 C500.4,315.2 504.2,315.7 507.0,315.5 C507.8,315.4 508.6,314.5 509.4,314.5 C515.4,314.2 523.4,314.0 529.4,314.5 C530.9,314.6 532.6,316.1 534.1,316.5 C535.5,316.8 537.5,316.3 538.8,316.8 C539.8,317.2 540.2,319.0 541.2,319.4 C542.5,320.0 544.6,319.6 545.9,320.0 C547.8,320.6 549.9,322.3 551.8,322.9 C553.5,323.4 555.9,323.0 557.6,323.5 C559.8,324.1 562.6,325.6 564.7,326.5 C566.1,327.1 567.9,327.9 569.4,328.2 C571.5,328.6 574.4,328.1 576.5,328.5 C578.0,328.8 579.8,329.9 581.2,330.6 C581.9,331.0 582.7,331.9 583.5,332.0 C585.6,332.3 588.5,332.3 590.6,332.0 C592.4,331.8 594.9,331.4 596.5,330.4 C598.6,329.1 600.3,326.0 602.4,324.7 C603.9,323.7 606.5,323.6 608.2,322.9 C610.0,322.2 612.2,320.7 614.1,320.2 C616.5,319.5 619.9,319.4 622.4,318.8 C624.2,318.4 626.4,317.2 628.2,316.8 C629.9,316.5 632.3,316.7 634.1,316.5 C635.7,316.3 637.8,315.6 639.4,315.5 C643.3,315.3 648.5,315.1 652.4,315.5 C653.2,315.6 653.9,316.9 654.7,317.1 C655.7,317.4 657.2,316.8 658.2,317.1 C659.4,317.5 660.6,319.0 661.8,319.4 C663.5,319.9 665.9,319.3 667.6,319.8 C669.2,320.3 670.8,322.4 672.4,322.9 C674.1,323.4 676.5,322.9 678.2,323.3 C679.4,323.5 680.6,324.7 681.8,324.9 C683.5,325.3 685.9,324.9 687.6,325.3 C688.4,325.5 689.2,326.6 690.0,326.8 C691.7,327.3 694.1,327.3 695.9,327.6 C699.1,328.1 703.4,328.6 706.5,329.4 C707.3,329.6 708.0,330.8 708.8,330.9 C711.8,331.3 715.9,331.6 718.8,330.9 C720.3,330.5 721.6,328.5 722.9,327.6 C725.0,326.2 727.8,324.7 730.0,323.5 C731.7,322.6 734.1,321.4 735.9,320.6 C736.9,320.2 738.4,319.8 739.4,319.4 C739.7,314.1 740.2,307.1 740.4,301.8 C741.0,284.9 741.7,262.3 742.2,245.3 C742.8,223.9 743.2,195.4 744.2,174.0 C744.6,166.0 745.9,155.3 746.9,147.3 C747.6,141.9 748.4,134.8 749.6,129.5 C750.0,127.5 750.9,124.8 752.2,123.3 C753.2,122.2 755.3,121.9 756.7,121.5 C758.3,121.0 760.4,120.7 762.0,120.3 C763.6,119.9 765.8,119.4 767.4,118.9 C769.0,118.4 771.1,117.4 772.7,117.1 C774.3,116.8 776.5,117.2 778.0,116.7 C779.5,116.2 781.6,115.2 782.5,113.9 C784.4,111.2 785.6,106.8 786.9,103.7 C788.3,100.3 789.7,95.5 791.4,92.2 C792.9,89.3 795.4,85.7 797.6,83.3 C799.4,81.3 802.4,79.3 804.7,77.9 C806.7,76.6 809.7,75.5 811.8,74.4 C814.0,73.3 817.0,71.9 819.0,70.5 C821.3,68.9 823.9,66.2 826.1,64.6 C828.1,63.1 831.1,61.6 833.2,60.2 C835.4,58.7 838.4,56.7 840.3,54.8 C841.9,53.2 843.3,50.3 844.8,48.6 C845.2,48.2 846.0,48.0 846.5,47.7 C846.8,48.8 847.4,50.2 847.4,51.3 C847.9,64.1 848.1,81.2 848.3,94.0 C848.7,118.0 849.0,150.0 849.5,174.0 C849.9,195.4 850.9,223.9 851.4,245.3 C851.7,259.4 851.7,278.3 852.4,292.4 C852.6,295.8 853.1,300.5 854.2,303.7 C854.8,305.4 856.6,307.3 858.0,308.4 C859.5,309.6 861.9,310.6 863.7,311.2 C865.3,311.7 867.6,311.7 869.3,312.1 C871.6,312.6 874.5,313.4 876.8,314.0 C879.1,314.6 882.2,315.1 884.4,315.9 C886.2,316.5 888.3,318.0 890.0,318.7 C892.8,319.8 896.5,321.4 899.4,322.1 C903.6,323.1 909.3,323.7 913.5,324.5 C917.1,325.2 921.8,326.3 925.3,327.1 C928.9,327.9 933.5,329.4 937.1,330.0 C940.6,330.6 945.3,330.7 948.8,331.2 C953.0,331.8 958.7,332.9 962.9,333.5 C965.4,333.9 968.7,334.3 971.2,334.4 C974.0,334.5 977.9,335.1 980.6,334.4 C982.0,334.1 983.0,332.1 984.1,331.2 C986.5,329.2 989.6,326.2 992.4,324.7 C994.3,323.7 997.4,323.7 999.4,322.9 C1001.5,322.1 1003.8,320.0 1005.9,319.4 C1008.1,318.8 1011.2,319.1 1013.5,318.8 C1014.2,318.7 1015.2,318.1 1015.9,318.2 C1017.0,318.4 1018.3,319.6 1019.4,319.8 C1022.9,320.3 1027.7,319.9 1031.2,320.6 C1032.1,320.8 1032.6,322.4 1033.5,322.6 C1036.3,323.2 1040.1,322.7 1042.9,323.3 C1045.8,323.9 1049.4,325.9 1052.4,326.5 C1056.2,327.2 1061.5,326.8 1065.3,327.6 C1067.2,328.0 1069.3,329.9 1071.2,330.4 C1073.2,331.0 1076.1,331.1 1078.2,331.2 C1080.5,331.3 1083.6,330.6 1085.9,330.8 C1086.7,330.9 1087.4,331.9 1088.2,332.0 C1091.0,332.3 1094.8,331.6 1097.6,332.0 C1098.7,332.2 1099.6,333.6 1100.6,333.9 C1102.1,334.4 1104.3,334.6 1105.9,334.7 C1109.1,334.9 1113.3,335.0 1116.5,335.1 C1120.5,335.2 1126.1,336.4 1130.0,335.5 C1132.1,335.0 1133.6,331.9 1135.3,330.6 C1136.6,329.7 1138.7,329.0 1140.0,328.2 C1141.8,327.1 1144.0,325.1 1145.9,324.1 C1147.6,323.3 1150.0,322.8 1151.8,322.4 C1153.2,322.1 1155.1,322.2 1156.5,321.8 C1158.0,321.3 1159.6,319.6 1161.2,319.4 C1165.0,318.9 1170.2,319.1 1174.1,319.4 C1174.9,319.5 1175.7,320.5 1176.5,320.6 C1178.3,320.9 1180.7,320.2 1182.4,320.6 C1183.6,320.9 1184.7,322.6 1185.9,322.9 C1188.7,323.5 1192.5,322.9 1195.3,323.3 C1196.1,323.4 1196.8,324.6 1197.6,324.7 C1199.7,325.1 1202.6,324.5 1204.7,324.9 C1205.9,325.1 1207.0,326.5 1208.2,326.8 C1211.3,327.5 1215.6,327.7 1218.8,328.2 C1221.3,328.6 1224.6,329.7 1227.1,330.0 C1229.9,330.4 1233.7,330.3 1236.5,330.6 C1239.0,330.9 1242.2,331.6 1244.7,331.8 C1247.5,332.0 1251.3,331.5 1254.1,332.0 C1255.3,332.2 1256.4,333.7 1257.6,333.9 C1260.7,334.5 1265.0,334.4 1268.2,334.7 C1270.2,334.9 1272.7,335.2 1274.7,335.3 C1277.7,335.4 1281.8,336.0 1284.7,335.3 C1286.3,334.9 1287.5,332.8 1288.8,331.8 C1290.1,330.8 1292.2,329.8 1293.5,328.8 C1295.0,327.7 1296.6,325.6 1298.2,324.7 C1299.8,323.8 1302.4,323.6 1304.1,322.9 C1305.9,322.2 1308.1,320.8 1310.0,320.2 C1311.7,319.7 1314.1,319.6 1315.9,319.4 C1317.7,319.2 1320.0,318.6 1321.8,318.6 C1324.3,318.6 1327.5,319.1 1330.0,319.4 C1332.1,319.7 1335.0,320.0 1337.1,320.6 C1337.9,320.8 1338.6,321.9 1339.4,322.1 C1341.5,322.5 1344.4,322.1 1346.5,322.4 C1348.3,322.6 1350.6,323.5 1352.4,323.8 C1354.5,324.2 1357.3,324.2 1359.4,324.7 C1360.9,325.0 1362.6,326.1 1364.1,326.5 C1366.2,327.0 1369.1,327.4 1371.2,327.6 C1374.7,328.0 1379.4,327.9 1382.9,328.5 C1383.7,328.6 1384.5,329.9 1385.3,330.0 C1388.1,330.5 1391.9,330.3 1394.7,330.6 C1396.9,330.9 1399.6,331.8 1401.8,332.0 C1405.7,332.3 1410.8,331.6 1414.7,332.0 C1415.5,332.1 1416.3,333.3 1417.1,333.5 C1419.5,334.0 1422.8,334.3 1425.3,334.4 C1429.5,334.6 1435.2,334.4 1439.4,334.7 C1440.2,334.8 1441.0,335.5 1441.8,335.5 C1444.8,335.7 1448.8,335.1 1451.8,335.5 C1452.8,335.6 1453.7,337.0 1454.7,337.1 C1460.1,337.5 1467.4,336.9 1472.9,337.1 C1473.7,337.1 1474.5,337.8 1475.3,337.9 C1478.1,338.1 1481.9,337.6 1484.7,337.9 C1485.5,338.0 1486.3,339.1 1487.1,339.1 C1494.1,339.4 1503.6,338.9 1510.6,339.1 C1511.3,339.1 1512.2,340.0 1512.9,340.0 C1518.2,340.2 1525.3,339.7 1530.6,340.0 C1531.7,340.1 1533.0,341.3 1534.1,341.4 C1536.9,341.7 1540.7,341.7 1543.5,341.4 C1544.3,341.3 1545.2,340.4 1545.9,340.0 C1547.7,339.0 1550.1,337.7 1551.8,336.5 C1553.6,335.2 1555.7,332.9 1557.6,331.8 C1558.9,331.1 1561.0,331.0 1562.4,330.4 C1563.9,329.8 1565.6,328.6 1567.1,328.0 C1568.5,327.4 1570.3,326.7 1571.8,326.5 C1573.5,326.3 1575.9,326.3 1577.6,326.5 C1578.4,326.6 1579.2,327.3 1580.0,327.4 C1582.1,327.6 1585.0,327.2 1587.1,327.4 C1587.8,327.5 1588.7,328.1 1589.4,328.2 C1591.2,328.4 1593.6,327.8 1595.3,328.2 C1596.2,328.4 1596.7,329.8 1597.6,330.0 C1599.7,330.5 1602.6,330.1 1604.7,330.4 C1606.1,330.6 1608.0,331.2 1609.4,331.4 C1611.8,331.7 1615.2,331.2 1617.6,331.8 C1618.5,332.0 1619.1,333.7 1620.0,333.9 C1622.4,334.4 1625.7,333.7 1628.2,333.9 C1628.7,333.9 1629.3,334.5 1629.8,334.7" fill="none" stroke="#5794F2" stroke-width="2" stroke-linejoin="round"/>
<g fill="#FF9830"><rect x="100.7" y="315.8" width="2.2" height="2.2"/><rect x="106.0" y="310.4" width="2.2" height="2.2"/><rect x="114.8" y="310.4" width="2.2" height="2.2"/><rect x="123.7" y="310.4" width="2.2" height="2.2"/><rect x="132.5" y="310.4" width="2.2" height="2.2"/><rect x="141.4" y="310.4" width="2.2" height="2.2"/><rect x="146.9" y="305.0" width="2.2" height="2.2"/><rect x="155.8" y="305.0" width="2.2" height="2.2"/><rect x="164.6" y="305.0" width="2.2" height="2.2"/><rect x="173.5" y="305.0" width="2.2" height="2.2"/><rect x="182.3" y="305.0" width="2.2" height="2.2"/><rect x="191.2" y="305.0" width="2.2" height="2.2"/><rect x="192.8" y="296.1" width="2.2" height="2.2"/><rect x="199.8" y="293.7" width="2.2" height="2.2"/><rect x="208.7" y="293.7" width="2.2" height="2.2"/><rect x="217.5" y="293.7" width="2.2" height="2.2"/><rect x="226.3" y="293.7" width="2.2" height="2.2"/><rect x="234.8" y="292.9" width="2.2" height="2.2"/><rect x="236.5" y="284.0" width="2.2" height="2.2"/><rect x="244.5" y="283.0" width="2.2" height="2.2"/><rect x="253.3" y="283.0" width="2.2" height="2.2"/><rect x="262.2" y="283.0" width="2.2" height="2.2"/><rect x="271.0" y="283.0" width="2.2" height="2.2"/><rect x="278.3" y="280.9" width="2.2" height="2.2"/><rect x="279.7" y="272.1" width="2.2" height="2.2"/><rect x="288.5" y="271.6" width="2.2" height="2.2"/><rect x="297.4" y="271.6" width="2.2" height="2.2"/><rect x="306.2" y="271.6" width="2.2" height="2.2"/><rect x="315.1" y="271.6" width="2.2" height="2.2"/><rect x="322.7" y="269.8" width="2.2" height="2.2"/><rect x="323.4" y="260.9" width="2.2" height="2.2"/><rect x="324.8" y="252.0" width="2.2" height="2.2"/><rect x="333.6" y="252.0" width="2.2" height="2.2"/><rect x="342.5" y="252.0" width="2.2" height="2.2"/><rect x="351.3" y="252.0" width="2.2" height="2.2"/><rect x="360.2" y="252.0" width="2.2" height="2.2"/><rect x="366.0" y="248.9" width="2.2" height="2.2"/><rect x="366.7" y="240.0" width="2.2" height="2.2"/><rect x="367.6" y="230.9" width="2.2" height="2.2"/><rect x="373.8" y="228.0" width="2.2" height="2.2"/><rect x="382.6" y="228.0" width="2.2" height="2.2"/><rect x="391.5" y="228.0" width="2.2" height="2.2"/><rect x="400.3" y="228.0" width="2.2" height="2.2"/><rect x="409.2" y="228.0" width="2.2" height="2.2"/><rect x="410.8" y="218.9" width="2.2" height="2.2"/><rect x="417.8" y="216.7" width="2.2" height="2.2"/><rect x="426.6" y="216.7" width="2.2" height="2.2"/><rect x="435.5" y="216.7" width="2.2" height="2.2"/><rect x="444.3" y="216.7" width="2.2" height="2.2"/><rect x="453.2" y="216.7" width="2.2" height="2.2"/><rect x="454.4" y="208.0" width="2.2" height="2.2"/><rect x="456.5" y="199.8" width="2.2" height="2.2"/><rect x="465.4" y="199.8" width="2.2" height="2.2"/><rect x="474.2" y="199.8" width="2.2" height="2.2"/><rect x="483.1" y="199.8" width="2.2" height="2.2"/><rect x="491.9" y="199.8" width="2.2" height="2.2"/><rect x="497.4" y="195.8" width="2.2" height="2.2"/><rect x="498.1" y="186.8" width="2.2" height="2.2"/><rect x="503.0" y="182.0" width="2.2" height="2.2"/><rect x="511.9" y="182.0" width="2.2" height="2.2"/><rect x="520.7" y="182.0" width="2.2" height="2.2"/><rect x="529.5" y="182.0" width="2.2" height="2.2"/><rect x="538.4" y="182.0" width="2.2" height="2.2"/><rect x="540.8" y="174.8" width="2.2" height="2.2"/><rect x="541.5" y="166.0" width="2.2" height="2.2"/><rect x="542.3" y="156.8" width="2.2" height="2.2"/><rect x="550.7" y="156.5" width="2.2" height="2.2"/><rect x="559.5" y="156.5" width="2.2" height="2.2"/><rect x="568.4" y="156.5" width="2.2" height="2.2"/><rect x="577.2" y="156.5" width="2.2" height="2.2"/><rect x="584.8" y="154.8" width="2.2" height="2.2"/><rect x="586.1" y="145.8" width="2.2" height="2.2"/><rect x="594.8" y="144.9" width="2.2" height="2.2"/><rect x="603.6" y="144.9" width="2.2" height="2.2"/><rect x="612.5" y="144.9" width="2.2" height="2.2"/><rect x="621.3" y="144.9" width="2.2" height="2.2"/><rect x="628.5" y="142.8" width="2.2" height="2.2"/><rect x="635.6" y="139.7" width="2.2" height="2.2"/><rect x="644.5" y="139.7" width="2.2" height="2.2"/><rect x="653.3" y="139.7" width="2.2" height="2.2"/><rect x="662.1" y="139.7" width="2.2" height="2.2"/><rect x="671.0" y="139.7" width="2.2" height="2.2"/><rect x="672.8" y="130.8" width="2.2" height="2.2"/><rect x="680.1" y="129.0" width="2.2" height="2.2"/><rect x="689.0" y="129.0" width="2.2" height="2.2"/><rect x="697.8" y="129.0" width="2.2" height="2.2"/><rect x="706.6" y="129.0" width="2.2" height="2.2"/><rect x="715.5" y="129.0" width="2.2" height="2.2"/><rect x="720.4" y="123.0" width="2.2" height="2.2"/><rect x="729.2" y="123.0" width="2.2" height="2.2"/><rect x="738.1" y="123.0" width="2.2" height="2.2"/><rect x="746.9" y="123.0" width="2.2" height="2.2"/><rect x="755.8" y="123.0" width="2.2" height="2.2"/><rect x="759.7" y="116.8" width="2.2" height="2.2"/><rect x="763.4" y="110.3" width="2.2" height="2.2"/><rect x="772.2" y="110.3" width="2.2" height="2.2"/><rect x="781.1" y="110.3" width="2.2" height="2.2"/><rect x="789.9" y="110.3" width="2.2" height="2.2"/><rect x="798.8" y="110.3" width="2.2" height="2.2"/><rect x="804.4" y="105.0" width="2.2" height="2.2"/><rect x="813.2" y="105.0" width="2.2" height="2.2"/><rect x="822.1" y="105.0" width="2.2" height="2.2"/><rect x="830.9" y="105.0" width="2.2" height="2.2"/><rect x="839.8" y="105.0" width="2.2" height="2.2"/><rect x="846.5" y="103.0" width="2.2" height="2.2"/><rect x="852.4" y="98.0" width="2.2" height="2.2"/><rect x="861.2" y="98.0" width="2.2" height="2.2"/><rect x="870.1" y="98.0" width="2.2" height="2.2"/><rect x="878.9" y="98.0" width="2.2" height="2.2"/><rect x="887.8" y="98.0" width="2.2" height="2.2"/><rect x="891.0" y="90.9" width="2.2" height="2.2"/><rect x="895.6" y="85.7" width="2.2" height="2.2"/><rect x="904.5" y="85.7" width="2.2" height="2.2"/><rect x="913.3" y="85.7" width="2.2" height="2.2"/><rect x="922.1" y="85.7" width="2.2" height="2.2"/><rect x="931.0" y="85.7" width="2.2" height="2.2"/><rect x="935.1" y="78.9" width="2.2" height="2.2"/><rect x="943.6" y="78.5" width="2.2" height="2.2"/><rect x="952.5" y="78.5" width="2.2" height="2.2"/><rect x="961.3" y="78.5" width="2.2" height="2.2"/><rect x="970.1" y="78.5" width="2.2" height="2.2"/><rect x="978.0" y="76.8" width="2.2" height="2.2"/><rect x="979.7" y="68.0" width="2.2" height="2.2"/><rect x="988.3" y="67.7" width="2.2" height="2.2"/><rect x="997.1" y="67.7" width="2.2" height="2.2"/><rect x="1006.0" y="67.7" width="2.2" height="2.2"/><rect x="1014.8" y="67.7" width="2.2" height="2.2"/><rect x="1023.7" y="67.7" width="2.2" height="2.2"/><rect x="1032.6" y="67.7" width="2.2" height="2.2"/><rect x="1041.4" y="67.7" width="2.2" height="2.2"/><rect x="1050.2" y="67.7" width="2.2" height="2.2"/><rect x="1059.1" y="67.7" width="2.2" height="2.2"/><rect x="1065.7" y="64.2" width="2.2" height="2.2"/><rect x="1073.4" y="62.7" width="2.2" height="2.2"/><rect x="1082.2" y="62.7" width="2.2" height="2.2"/><rect x="1091.1" y="62.7" width="2.2" height="2.2"/><rect x="1100.0" y="62.7" width="2.2" height="2.2"/><rect x="1108.8" y="62.7" width="2.2" height="2.2"/><rect x="1114.4" y="57.2" width="2.2" height="2.2"/><rect x="1123.2" y="57.2" width="2.2" height="2.2"/><rect x="1132.1" y="57.2" width="2.2" height="2.2"/><rect x="1141.0" y="57.2" width="2.2" height="2.2"/><rect x="1149.8" y="57.2" width="2.2" height="2.2"/><rect x="1155.4" y="51.9" width="2.2" height="2.2"/><rect x="1164.2" y="51.9" width="2.2" height="2.2"/><rect x="1173.1" y="51.9" width="2.2" height="2.2"/><rect x="1182.0" y="51.9" width="2.2" height="2.2"/><rect x="1190.8" y="51.9" width="2.2" height="2.2"/><rect x="1199.7" y="51.9" width="2.2" height="2.2"/><rect x="1208.5" y="51.9" width="2.2" height="2.2"/><rect x="1217.4" y="51.9" width="2.2" height="2.2"/><rect x="1226.2" y="51.9" width="2.2" height="2.2"/><rect x="1235.1" y="51.9" width="2.2" height="2.2"/><rect x="1240.4" y="47.8" width="2.2" height="2.2"/><rect x="1243.6" y="40.6" width="2.2" height="2.2"/><rect x="1252.5" y="40.6" width="2.2" height="2.2"/><rect x="1261.3" y="40.6" width="2.2" height="2.2"/><rect x="1270.2" y="40.6" width="2.2" height="2.2"/><rect x="1279.0" y="40.6" width="2.2" height="2.2"/><rect x="1287.9" y="40.6" width="2.2" height="2.2"/><rect x="1296.7" y="40.6" width="2.2" height="2.2"/><rect x="1305.6" y="40.6" width="2.2" height="2.2"/><rect x="1314.4" y="40.6" width="2.2" height="2.2"/><rect x="1323.3" y="40.6" width="2.2" height="2.2"/><rect x="1332.1" y="40.6" width="2.2" height="2.2"/><rect x="1341.0" y="40.6" width="2.2" height="2.2"/><rect x="1349.8" y="40.6" width="2.2" height="2.2"/><rect x="1358.7" y="40.6" width="2.2" height="2.2"/><rect x="1367.5" y="40.6" width="2.2" height="2.2"/><rect x="1372.8" y="45.8" width="2.2" height="2.2"/><rect x="1381.7" y="45.8" width="2.2" height="2.2"/><rect x="1390.5" y="45.8" width="2.2" height="2.2"/><rect x="1399.4" y="45.8" width="2.2" height="2.2"/><rect x="1408.2" y="45.8" width="2.2" height="2.2"/><rect x="1415.1" y="48.8" width="2.2" height="2.2"/><rect x="1421.8" y="51.7" width="2.2" height="2.2"/><rect x="1430.7" y="51.7" width="2.2" height="2.2"/><rect x="1439.5" y="51.7" width="2.2" height="2.2"/><rect x="1448.4" y="51.7" width="2.2" height="2.2"/><rect x="1457.2" y="51.7" width="2.2" height="2.2"/><rect x="1466.4" y="53.9" width="2.2" height="2.2"/><rect x="1475.2" y="53.9" width="2.2" height="2.2"/><rect x="1484.1" y="53.9" width="2.2" height="2.2"/><rect x="1493.0" y="53.9" width="2.2" height="2.2"/><rect x="1503.6" y="51.9" width="2.2" height="2.2"/><rect x="1512.5" y="51.9" width="2.2" height="2.2"/><rect x="1521.3" y="51.9" width="2.2" height="2.2"/><rect x="1530.2" y="51.9" width="2.2" height="2.2"/><rect x="1539.0" y="51.9" width="2.2" height="2.2"/><rect x="1547.9" y="51.9" width="2.2" height="2.2"/><rect x="1556.7" y="51.9" width="2.2" height="2.2"/><rect x="1565.6" y="51.9" width="2.2" height="2.2"/><rect x="1574.4" y="51.9" width="2.2" height="2.2"/><rect x="1583.3" y="51.9" width="2.2" height="2.2"/><rect x="1592.4" y="54.9" width="2.2" height="2.2"/><rect x="1601.2" y="54.9" width="2.2" height="2.2"/><rect x="1610.1" y="54.9" width="2.2" height="2.2"/><rect x="1619.0" y="54.9" width="2.2" height="2.2"/></g>
</g>
<g clip-path="url(#c2)">
<polygon points="192.3,648.0 195.9,589.5 198.5,530.5 201.0,525.4 204.9,524.1 207.4,535.6 211.3,556.2 216.4,566.4 221.5,584.4 225.4,588.2 235.6,588.2 239.5,583.1 244.6,578.0 248.5,576.7 249.7,573.6 251.0,584.4 252.8,648.0" fill="rgba(115,191,105,0.075)"/>
<polygon points="360.3,648.0 363.1,512.6 366.9,502.3 372.1,497.2 378.5,508.7 383.6,506.2 388.7,492.1 392.6,485.9 396.4,486.4 402.8,501.0 407.9,511.3 415.6,525.4 418.2,535.6 425.9,547.2 433.6,557.4 438.7,562.6 443.8,565.1 515.6,565.1 518.2,648.0" fill="rgba(115,191,105,0.075)"/>
<polygon points="582.6,648.0 584.6,525.4 586.2,497.2 588.7,493.3 591.3,494.6 595.6,507.4 600.8,525.4 605.9,545.9 609.7,556.2 613.6,572.8 617.4,577.2 620.0,573.6 631.5,573.6 634.1,569.5 636.7,569.5 637.9,576.7 640.5,648.0" fill="rgba(115,191,105,0.075)"/>
<polygon points="709.0,648.0 710.3,517.7 712.8,501.0 716.2,497.7 718.7,502.3 722.6,517.7 727.7,535.6 732.8,548.5 736.7,558.7 738.7,572.8 741.0,548.5 743.1,553.6 745.1,602.3 748.2,581.8 750.0,576.7 753.3,569.0 757.7,556.2 760.3,539.5 764.1,538.2 770.5,528.5 782.1,528.5 785.9,532.1 838.5,532.1 841.0,535.6 846.9,535.6 850.0,436.9 851.3,512.6 852.6,648.0" fill="rgba(115,191,105,0.075)"/>
<polygon points="970.5,648.0 971.8,538.2 974.4,484.4 975.6,481.8 979.5,482.6 982.1,486.9 983.8,512.6 985.9,520.0 990.3,540.8 995.4,542.8 999.2,548.5 1003.1,569.0 1005.6,648.0" fill="rgba(115,191,105,0.075)"/>
<polygon points="1118.5,648.0 1120.5,538.2 1123.6,504.9 1127.4,501.0 1131.3,503.6 1135.1,520.3 1140.3,548.5 1144.1,547.2 1149.2,563.8 1153.1,576.7 1156.9,577.9 1159.5,594.6 1161.5,648.0" fill="rgba(115,191,105,0.075)"/>
<polygon points="1275.4,648.0 1277.2,512.6 1280.5,507.4 1284.4,501.0 1286.9,504.9 1292.1,525.4 1295.9,545.9 1299.7,547.2 1303.6,558.7 1307.4,576.7 1312.6,580.5 1315.1,648.0" fill="rgba(115,191,105,0.075)"/>
<polygon points="1537.2,648.0 1539.7,515.1 1543.6,504.9 1546.2,501.0 1548.7,511.3 1552.6,533.1 1554.4,550.5 1562.8,550.5 1564.1,563.8 1566.2,648.0" fill="rgba(115,191,105,0.075)"/>
<polygon points="192.4,648.0 194.6,630.5 197.5,622.4 200.1,625.3 203.0,628.2 204.7,631.0 208.8,637.4 249.3,637.4 252.5,648.0" fill="rgba(250,222,42,0.11)"/>
<polygon points="360.5,648.0 363.1,630.5 372.1,630.0 377.2,625.4 382.3,622.3 392.6,622.3 395.1,625.9 402.8,625.9 407.9,630.0 418.2,630.5 423.3,634.4 438.7,634.4 442.6,636.9 447.7,636.9 450.3,632.6 452.8,635.6 456.7,634.4 515.6,634.4 518.2,648.0" fill="rgba(250,222,42,0.11)"/>
<polygon points="582.6,648.0 583.6,627.4 589.2,626.7 596.9,633.1 604.6,636.9 638.0,636.9 640.0,648.0" fill="rgba(250,222,42,0.11)"/>
<polygon points="708.7,648.0 709.7,627.4 716.2,627.4 722.6,633.1 732.8,637.7 740.5,636.9 744.4,624.1 748.2,615.1 750.0,615.1 755.1,611.3 792.3,611.3 796.2,607.4 848.7,607.4 851.3,648.0" fill="rgba(250,222,42,0.11)"/>
<polygon points="971.8,648.0 973.1,626.7 976.9,626.7 983.3,635.6 990.0,636.9 1004.4,636.9 1006.4,648.0" fill="rgba(250,222,42,0.11)"/>
<polygon points="1119.5,648.0 1121.0,630.0 1128.7,630.0 1135.1,636.9 1158.2,636.9 1160.8,648.0" fill="rgba(250,222,42,0.11)"/>
<polygon points="1276.2,648.0 1277.2,630.0 1283.1,630.0 1289.5,635.1 1294.6,636.9 1312.6,636.9 1315.1,648.0" fill="rgba(250,222,42,0.11)"/>
<polygon points="1537.0,648.0 1538.5,630.5 1543.6,630.5 1551.3,636.9 1561.5,636.9 1564.1,648.0" fill="rgba(250,222,42,0.11)"/>
<path d="M66.0,648.0 C103.9,648.0 154.4,648.0 192.3,648.0 C193.4,630.5 195.0,607.1 195.9,589.5 C196.8,571.8 197.1,548.2 198.5,530.5 C198.6,528.8 199.8,526.6 201.0,525.4 C201.9,524.5 203.7,524.5 204.9,524.1 C205.7,527.6 206.7,532.1 207.4,535.6 C208.6,541.8 209.5,550.2 211.3,556.2 C212.3,559.5 215.2,563.2 216.4,566.4 C218.3,571.7 219.4,579.2 221.5,584.4 C222.1,585.9 223.8,587.8 225.4,588.2 C228.4,589.0 232.7,589.2 235.6,588.2 C237.4,587.5 238.2,584.5 239.5,583.1 C240.9,581.5 242.8,579.3 244.6,578.0 C245.6,577.3 247.6,577.5 248.5,576.7 C249.3,576.0 249.3,574.5 249.7,573.6 C250.1,576.8 250.9,581.1 251.0,584.4 C251.8,603.5 252.3,628.9 252.8,648.0 C285.1,648.0 328.1,648.0 360.3,648.0 C361.1,607.4 361.3,553.2 363.1,512.6 C363.2,509.3 365.2,505.1 366.9,502.3 C368.0,500.4 370.5,498.7 372.1,497.2 C374.0,500.6 376.6,505.2 378.5,508.7 C380.0,507.9 382.7,507.7 383.6,506.2 C386.0,502.4 386.9,496.2 388.7,492.1 C389.6,490.1 391.4,487.8 392.6,485.9 C393.7,486.0 395.3,486.2 396.4,486.4 C398.3,490.8 400.8,496.7 402.8,501.0 C404.2,504.1 406.3,508.2 407.9,511.3 C410.1,515.6 413.7,521.0 415.6,525.4 C416.8,528.3 416.9,532.7 418.2,535.6 C420.0,539.4 423.5,543.8 425.9,547.2 C428.1,550.3 431.1,554.5 433.6,557.4 C435.0,559.1 437.0,561.3 438.7,562.6 C440.1,563.6 442.1,565.0 443.8,565.1 C465.3,565.8 494.1,565.1 515.6,565.1 C516.4,590.0 517.4,623.1 518.2,648.0 C537.5,648.0 563.3,648.0 582.6,648.0 C583.2,611.2 583.7,562.2 584.6,525.4 C584.8,516.9 585.1,505.6 586.2,497.2 C586.4,495.8 588.0,494.5 588.7,493.3 C589.5,493.7 590.9,493.8 591.3,494.6 C593.1,498.2 594.4,503.5 595.6,507.4 C597.3,512.8 599.3,520.0 600.8,525.4 C602.4,531.5 604.1,539.8 605.9,545.9 C606.8,549.1 608.8,553.0 609.7,556.2 C611.1,561.1 611.8,568.0 613.6,572.8 C614.2,574.4 616.3,575.9 617.4,577.2 C618.2,576.1 618.7,573.9 620.0,573.6 C623.3,572.7 628.0,573.6 631.5,573.6 C632.3,572.4 633.3,570.7 634.1,569.5 C634.9,569.5 635.9,569.5 636.7,569.5 C637.1,571.7 637.8,574.5 637.9,576.7 C638.9,598.1 639.7,626.6 640.5,648.0 C661.0,648.0 688.5,648.0 709.0,648.0 C709.4,608.9 709.3,556.8 710.3,517.7 C710.4,512.6 711.4,505.9 712.8,501.0 C713.2,499.6 715.2,498.7 716.2,497.7 C717.0,499.1 718.2,500.8 718.7,502.3 C720.2,506.8 721.4,513.1 722.6,517.7 C724.1,523.1 725.9,530.3 727.7,535.6 C729.0,539.6 731.3,544.6 732.8,548.5 C734.0,551.6 735.9,555.5 736.7,558.7 C737.7,562.9 738.1,568.6 738.7,572.8 C739.4,565.5 740.3,555.8 741.0,548.5 C741.6,550.0 743.0,552.0 743.1,553.6 C744.2,568.2 744.5,587.7 745.1,602.3 C746.0,596.1 747.0,587.9 748.2,581.8 C748.5,580.2 749.4,578.2 750.0,576.7 C750.9,574.4 752.4,571.4 753.3,569.0 C754.7,565.2 756.8,560.2 757.7,556.2 C758.9,551.3 759.5,544.5 760.3,539.5 C761.4,539.1 763.3,539.1 764.1,538.2 C766.5,535.6 768.6,531.4 770.5,528.5 C774.0,528.5 778.7,527.7 782.1,528.5 C783.6,528.9 784.3,532.0 785.9,532.1 C801.6,533.1 822.8,531.1 838.5,532.1 C839.8,532.2 839.8,535.1 841.0,535.6 C842.6,536.3 845.1,535.6 846.9,535.6 C847.8,506.0 849.1,466.5 850.0,436.9 C850.4,459.6 851.0,489.9 851.3,512.6 C851.8,553.2 852.2,607.4 852.6,648.0 C888.0,648.0 935.1,648.0 970.5,648.0 C970.9,615.1 971.0,571.1 971.8,538.2 C972.2,522.0 973.3,500.5 974.4,484.4 C974.5,483.5 975.2,482.6 975.6,481.8 C976.8,482.0 978.6,481.9 979.5,482.6 C980.7,483.5 981.9,485.4 982.1,486.9 C983.2,494.5 982.9,504.9 983.8,512.6 C984.1,514.9 985.4,517.8 985.9,520.0 C987.3,526.2 989.0,534.6 990.3,540.8 C991.8,541.4 994.2,541.7 995.4,542.8 C997.0,544.1 998.6,546.5 999.2,548.5 C1001.0,554.5 1002.7,562.8 1003.1,569.0 C1004.6,592.7 1004.9,624.3 1005.6,648.0 C1039.5,648.0 1084.6,648.0 1118.5,648.0 C1119.1,615.1 1119.3,571.1 1120.5,538.2 C1120.9,528.2 1121.8,514.8 1123.6,504.9 C1123.9,503.3 1126.3,502.2 1127.4,501.0 C1128.6,501.8 1130.8,502.3 1131.3,503.6 C1133.2,508.4 1134.1,515.3 1135.1,520.3 C1136.8,528.7 1138.7,540.0 1140.3,548.5 C1141.4,548.1 1143.0,547.6 1144.1,547.2 C1145.6,552.2 1147.7,558.8 1149.2,563.8 C1150.4,567.7 1151.9,572.8 1153.1,576.7 C1154.2,577.1 1155.8,577.5 1156.9,577.9 C1157.7,582.9 1159.2,589.5 1159.5,594.6 C1160.5,610.6 1160.9,632.0 1161.5,648.0 C1195.7,648.0 1241.2,648.0 1275.4,648.0 C1275.9,607.4 1275.7,553.2 1277.2,512.6 C1277.3,510.8 1279.5,509.0 1280.5,507.4 C1281.7,505.5 1283.2,502.9 1284.4,501.0 C1285.2,502.2 1286.5,503.6 1286.9,504.9 C1288.8,511.0 1290.7,519.2 1292.1,525.4 C1293.4,531.5 1294.8,539.8 1295.9,545.9 C1297.0,546.3 1299.1,546.2 1299.7,547.2 C1301.6,550.3 1302.7,555.2 1303.6,558.7 C1305.0,564.0 1305.3,571.6 1307.4,576.7 C1308.1,578.5 1312.4,578.6 1312.6,580.5 C1314.8,600.6 1314.3,627.8 1315.1,648.0 C1381.7,648.0 1470.6,648.0 1537.2,648.0 C1538.0,608.1 1537.9,554.9 1539.7,515.1 C1539.8,511.8 1542.2,507.9 1543.6,504.9 C1544.2,503.6 1545.4,502.2 1546.2,501.0 C1547.0,504.1 1548.1,508.2 1548.7,511.3 C1550.0,517.8 1551.6,526.5 1552.6,533.1 C1553.4,538.3 1553.9,545.3 1554.4,550.5 C1556.9,550.5 1560.3,550.5 1562.8,550.5 C1563.2,554.5 1564.0,559.8 1564.1,563.8 C1565.0,589.1 1565.6,622.7 1566.2,648.0 C1586.2,648.0 1613.0,648.0 1633.0,648.0" fill="none" stroke="#73BF69" stroke-width="1.5" stroke-linejoin="round"/>
<polyline points="66.0,648.8 192.4,648.0 194.6,630.5 197.5,622.4 200.1,625.3 203.0,628.2 204.7,631.0 208.8,637.4 249.3,637.4 252.5,648.0 360.5,648.0 363.1,630.5 372.1,630.0 377.2,625.4 382.3,622.3 392.6,622.3 395.1,625.9 402.8,625.9 407.9,630.0 418.2,630.5 423.3,634.4 438.7,634.4 442.6,636.9 447.7,636.9 450.3,632.6 452.8,635.6 456.7,634.4 515.6,634.4 518.2,648.0 582.6,648.0 583.6,627.4 589.2,626.7 596.9,633.1 604.6,636.9 638.0,636.9 640.0,648.0 708.7,648.0 709.7,627.4 716.2,627.4 722.6,633.1 732.8,637.7 740.5,636.9 744.4,624.1 748.2,615.1 750.0,615.1 755.1,611.3 792.3,611.3 796.2,607.4 848.7,607.4 851.3,648.0 971.8,648.0 973.1,626.7 976.9,626.7 983.3,635.6 990.0,636.9 1004.4,636.9 1006.4,648.0 1119.5,648.0 1121.0,630.0 1128.7,630.0 1135.1,636.9 1158.2,636.9 1160.8,648.0 1276.2,648.0 1277.2,630.0 1283.1,630.0 1289.5,635.1 1294.6,636.9 1312.6,636.9 1315.1,648.0 1537.0,648.0 1538.5,630.5 1543.6,630.5 1551.3,636.9 1561.5,636.9 1564.1,648.0 1633.0,648.8" fill="none" stroke="#FADE2A" stroke-width="2" stroke-linejoin="round"/>
<polyline points="105.0,647.9 359.2,648.0 361.8,625.4 366.9,625.9 377.2,621.5 384.9,619.0 391.3,619.7 400.3,624.1 418.2,629.2 436.2,631.8 449.0,633.1 515.6,633.1 518.2,648.0 581.5,648.0 583.6,624.1 589.2,624.1 594.4,629.2 599.5,631.8 607.2,634.4 617.4,633.1 638.0,633.1 640.0,648.0 707.2,648.0 709.7,624.1 716.2,624.1 722.6,630.5 732.8,635.1 740.5,633.1 744.4,620.3 748.2,611.3 753.3,608.7 760.3,607.4 775.6,606.2 791.0,604.9 801.3,604.4 816.7,603.6 832.1,602.3 848.7,602.3 851.3,648.0 970.0,648.0 972.6,624.1 976.9,622.8 983.3,630.5 987.7,633.1 995.4,635.6 1004.4,634.4 1006.4,648.0 1118.5,648.0 1120.5,624.1 1127.4,625.4 1133.8,633.1 1138.9,635.6 1149.2,634.4 1158.2,633.1 1160.8,648.0 1274.1,648.0 1276.2,625.4 1283.1,624.9 1288.2,631.8 1295.9,635.6 1304.9,633.6 1312.6,633.1 1315.1,648.0 1535.9,648.0 1538.0,625.4 1543.6,625.4 1550.0,633.1 1555.1,635.6 1561.5,635.6 1564.1,648.0 1633.0,647.9" fill="none" stroke="#FF780A" stroke-width="2" stroke-linejoin="round"/>
<path d="M104.9,540.0 C129.9,540.0 163.2,540.0 188.2,540.0 C188.6,544.1 189.3,549.5 189.5,553.6 C190.1,570.5 190.0,593.1 190.8,610.0 C191.0,613.7 192.2,618.6 192.8,622.3 C193.6,622.3 194.6,622.3 195.4,622.3 C196.3,617.8 197.4,611.8 198.5,607.4 C199.9,602.0 201.8,594.8 203.6,589.5 C204.9,585.6 207.2,580.6 208.7,576.7 C211.1,570.6 213.9,562.3 216.4,556.2 C218.5,551.1 221.8,544.5 224.1,539.5 C227.2,532.9 231.6,524.4 234.4,517.7 C237.0,511.7 239.7,503.3 242.1,497.2 C243.9,492.5 246.6,486.4 248.5,481.8 C249.3,479.9 249.6,476.9 251.0,475.4 C252.8,473.3 256.2,471.5 258.7,470.3 C261.3,469.0 264.9,467.9 267.7,467.2 C270.7,466.4 274.9,465.3 278.0,465.1 C280.3,464.9 283.3,465.6 285.6,465.9 C286.9,466.1 288.7,466.6 290.0,466.9 C292.3,467.4 295.5,467.8 297.7,468.5 C300.9,469.5 305.1,471.0 307.9,472.8 C312.8,475.9 318.6,481.0 323.3,484.4 C326.7,486.9 332.7,489.0 334.9,492.6 C339.1,499.4 341.2,510.1 343.8,517.7 C347.0,526.9 351.2,539.2 354.1,548.5 C356.2,555.5 358.6,565.0 360.5,572.0 C362.4,572.2 365.3,571.7 366.9,572.8 C369.8,574.8 371.9,579.4 374.6,581.8 C377.4,584.3 381.8,586.6 384.9,588.7 C387.2,587.8 390.5,587.0 392.6,585.6 C396.0,583.3 399.8,579.4 402.8,576.7 C406.0,573.8 409.8,569.7 413.1,566.9 C417.6,563.1 423.7,558.2 428.5,554.9 C431.4,552.9 435.6,550.8 438.7,549.2 C443.3,546.9 449.8,544.9 454.1,542.1 C459.2,538.8 465.1,533.4 469.5,529.2 C474.4,524.5 480.6,517.8 484.9,512.6 C489.8,506.7 495.6,498.2 500.3,492.1 C503.3,488.2 507.3,482.9 510.5,479.2 C512.6,476.7 515.9,473.8 518.2,471.5 C518.7,471.9 519.6,472.3 520.0,472.8 C524.0,477.7 529.1,484.4 532.8,489.5 C536.4,494.4 540.7,501.4 544.4,506.2 C548.4,511.4 554.8,517.4 558.5,522.8 C562.5,528.6 566.8,537.0 570.0,543.3 C573.7,550.6 578.0,560.7 581.5,568.2 C584.6,561.5 588.5,552.5 591.8,545.9 C594.6,540.4 598.8,533.3 602.0,528.0 C604.9,523.3 609.1,517.1 612.3,512.6 C613.7,510.6 616.0,508.2 617.4,506.2 C620.7,501.3 624.4,494.4 627.7,489.5 C631.2,484.3 636.3,477.8 640.0,472.8 C642.5,474.3 645.8,476.3 648.2,477.9 C651.4,480.1 655.8,482.9 658.5,485.6 C662.7,489.8 667.4,496.4 671.3,501.0 C673.6,503.7 676.8,507.2 679.0,510.0 C682.2,514.1 686.3,519.8 689.2,524.1 C692.5,529.0 696.9,535.5 699.5,540.8 C702.9,547.9 706.3,557.8 709.2,565.1 C711.7,558.6 714.5,549.6 717.4,543.3 C719.3,539.2 723.0,534.4 725.1,530.5 C727.6,526.0 730.2,519.6 732.8,515.1 C735.2,510.9 739.1,505.8 741.8,501.8 C773.3,501.8 815.4,501.8 846.9,501.8 C847.4,493.5 847.9,482.4 848.7,474.1 C849.2,468.7 849.6,461.4 851.3,456.2 C851.7,455.0 853.8,454.5 855.1,454.1 C856.6,453.7 858.8,454.0 860.3,453.6 C861.2,453.3 861.9,451.9 862.8,451.8 C866.6,451.4 871.8,451.4 875.6,451.8 C878.0,452.1 881.0,453.3 883.3,454.1 C885.7,455.0 888.9,456.0 891.0,457.4 C892.8,458.6 894.5,461.2 896.2,462.6 C898.3,464.3 901.6,466.1 903.8,467.7 C906.2,469.5 909.4,471.9 911.5,474.1 C914.9,477.7 918.7,483.1 921.8,486.9 C924.9,490.7 929.2,495.7 932.1,499.7 C935.4,504.2 939.2,510.5 942.3,515.1 C945.4,519.7 949.7,525.8 952.6,530.5 C955.8,535.8 959.9,543.0 962.8,548.5 C965.2,553.0 968.2,559.2 970.5,563.8 C972.0,560.7 974.4,556.8 975.6,553.6 C977.3,549.1 978.5,542.8 980.0,538.2 C982.1,532.0 985.4,523.9 987.7,517.7 C990.0,511.6 992.9,503.3 995.4,497.2 C996.7,494.0 999.2,490.1 1000.5,486.9 C1002.2,482.7 1004.1,477.0 1005.6,472.8 C1009.5,472.8 1014.7,472.3 1018.5,472.8 C1022.4,473.3 1027.6,474.7 1031.3,476.2 C1036.1,478.2 1042.2,481.7 1046.7,484.4 C1051.5,487.2 1057.8,491.1 1062.1,494.6 C1067.1,498.8 1073.0,505.2 1077.4,510.0 C1082.2,515.2 1088.4,522.3 1092.8,527.9 C1096.9,533.1 1101.9,540.4 1105.6,545.9 C1108.9,550.8 1112.3,558.0 1115.9,562.6 C1116.6,563.5 1118.6,563.4 1119.7,563.8 C1121.7,558.4 1124.2,551.3 1126.2,545.9 C1128.5,539.7 1131.2,531.4 1133.8,525.4 C1135.8,520.6 1139.3,514.7 1141.5,510.0 C1144.0,504.7 1146.8,497.4 1149.2,492.1 C1151.9,486.1 1155.5,478.1 1158.2,472.1 C1160.1,472.1 1162.7,472.0 1164.6,472.1 C1170.0,472.3 1177.3,471.9 1182.6,472.8 C1185.1,473.2 1188.0,475.1 1190.3,476.2 C1193.4,477.8 1197.5,480.0 1200.5,481.8 C1203.4,483.6 1207.3,486.1 1210.0,488.2 C1213.2,490.7 1217.3,494.4 1220.3,497.2 C1225.0,501.7 1231.0,508.0 1235.6,512.6 C1239.5,516.5 1245.0,521.2 1248.5,525.4 C1252.7,530.5 1257.7,537.8 1261.3,543.3 C1265.4,549.7 1270.3,558.6 1274.1,565.1 C1276.4,560.1 1279.5,553.5 1281.8,548.5 C1284.9,541.6 1289.3,532.4 1292.1,525.4 C1295.4,517.0 1299.0,505.6 1302.3,497.2 C1305.2,489.8 1308.5,479.6 1312.6,472.8 C1313.4,471.4 1316.1,471.5 1317.7,471.5 C1323.1,471.5 1330.3,472.0 1335.6,472.8 C1338.0,473.2 1341.0,474.6 1343.3,475.4 C1346.4,476.5 1350.7,477.7 1353.6,479.2 C1357.6,481.2 1362.8,484.2 1366.4,486.9 C1370.5,490.0 1375.4,494.9 1379.2,498.5 C1383.2,502.3 1388.4,507.3 1392.1,511.3 C1394.6,514.0 1397.5,518.1 1400.0,520.8 C1401.4,522.3 1403.8,523.8 1405.1,525.4 C1406.9,527.5 1408.6,530.9 1410.3,533.1 C1411.3,534.4 1413.0,535.8 1414.1,536.9 C1415.2,536.5 1416.7,535.8 1417.9,535.6 C1421.0,535.1 1425.1,534.5 1428.2,534.4 C1435.1,534.3 1444.4,534.4 1451.3,534.9 C1455.2,535.2 1460.3,536.2 1464.1,536.9 C1468.0,537.6 1473.1,538.6 1476.9,539.5 C1480.0,540.2 1484.1,541.3 1487.2,542.1 C1490.3,542.9 1494.4,544.0 1497.4,545.1 C1501.3,546.5 1506.4,548.9 1510.3,550.5 C1514.1,552.1 1519.3,554.0 1523.1,555.6 C1527.0,557.2 1532.1,559.4 1535.9,561.3 C1536.4,561.5 1536.8,562.2 1537.2,562.6 C1539.1,556.1 1541.8,547.4 1543.6,540.8 C1545.3,534.7 1546.8,526.4 1548.7,520.3 C1550.7,514.0 1554.4,506.0 1556.4,499.7 C1559.4,490.6 1561.8,477.9 1565.4,469.0 C1566.1,467.2 1568.9,466.2 1570.5,465.1 C1573.2,463.1 1576.8,460.7 1579.5,458.7 C1582.6,456.4 1586.4,453.0 1589.7,451.0 C1593.4,448.7 1598.6,446.3 1602.6,444.6 C1606.3,443.0 1611.5,441.5 1615.4,440.3 C1617.3,439.7 1619.8,438.9 1621.8,438.7 C1624.1,438.4 1627.2,438.7 1629.5,438.7" fill="none" stroke="#8AB8FF" stroke-width="1.8" stroke-linejoin="round"/>
</g>
<g clip-path="url(#c3)">
<polygon points="191.6,917.3 191.6,875.2 193.1,875.2 193.1,838.8 199.9,838.8 199.9,841.4 217.3,841.4 217.3,843.4 253.4,843.4 253.4,885.4 256.0,885.4 256.0,917.3" fill="rgba(115,191,105,0.055)"/>
<polygon points="357.0,917.3 357.0,873.5 359.6,873.5 359.6,836.9 364.2,836.9 365.5,838.6 366.1,841.6 377.9,841.6 379.2,843.4 518.4,843.4 518.4,885.6 520.4,885.6 520.4,917.3" fill="rgba(115,191,105,0.055)"/>
<polygon points="578.3,917.3 578.3,873.5 580.9,873.5 580.9,837.3 584.2,837.3 586.1,841.8 591.4,841.8 593.3,843.4 640.0,843.4 640.0,883.0 643.0,883.0 643.0,917.3" fill="rgba(115,191,105,0.055)"/>
<polygon points="706.7,917.3 706.7,877.8 709.0,877.8 709.0,836.0 711.2,838.4 712.7,841.4 720.3,842.2 722.6,843.4 741.6,843.4 741.6,801.2 743.1,800.0 745.4,799.0 749.9,799.0 751.4,797.4 850.0,797.4 850.0,879.3 852.3,880.0 853.0,883.1 855.3,883.1 855.3,917.3" fill="rgba(115,191,105,0.055)"/>
<polygon points="969.4,917.3 969.4,875.1 971.1,875.1 971.1,838.6 972.8,838.6 975.1,840.9 979.8,841.7 982.6,843.6 1007.0,843.6 1007.0,885.8 1010.3,885.8 1010.3,917.3" fill="rgba(115,191,105,0.055)"/>
<polygon points="1117.4,917.3 1117.4,875.1 1119.4,875.1 1119.4,838.6 1122.3,838.6 1124.0,841.5 1128.6,841.7 1132.6,843.6 1162.0,843.6 1162.0,885.8 1164.3,885.8 1164.3,917.3" fill="rgba(115,191,105,0.055)"/>
<polygon points="1272.0,917.3 1272.0,873.5 1274.1,873.5 1274.1,836.9 1276.4,836.9 1278.7,841.7 1282.8,841.7 1285.6,843.6 1316.1,843.6 1316.1,885.8 1318.4,885.8 1318.4,917.3" fill="rgba(115,191,105,0.055)"/>
<polygon points="1534.0,917.3 1534.0,875.1 1536.1,875.1 1536.1,838.6 1538.4,838.6 1540.1,841.7 1566.6,841.7 1566.6,885.8 1569.5,885.8 1569.5,917.3" fill="rgba(115,191,105,0.055)"/>
<polygon points="194.6,917.3 194.6,833.8 204.5,833.8 204.5,842.2 206.0,842.2 206.0,853.6 209.0,853.6 209.0,862.7 212.0,862.7 212.0,867.2 253.0,867.2 253.0,917.3" fill="rgba(215,195,165,0.10)"/>
<polygon points="360.3,917.3 360.3,882.4 363.5,882.4 363.5,834.2 371.4,834.2 373.3,834.2 373.3,831.4 375.3,831.4 375.3,829.4 377.9,829.4 377.9,826.8 379.9,826.8 379.9,824.8 381.8,824.8 381.8,823.3 384.4,823.3 384.4,822.0 387.1,822.0 387.1,820.9 389.7,820.9 389.7,820.9 392.3,820.9 392.3,822.9 394.9,822.9 394.9,825.5 397.5,825.5 397.5,828.1 400.1,828.1 400.1,831.4 402.7,831.4 402.7,834.2 405.4,834.2 405.4,837.3 408.0,837.3 408.0,840.5 410.6,840.5 410.6,843.8 413.2,843.8 413.2,846.4 415.8,846.4 415.8,849.0 418.4,849.0 418.4,851.6 421.0,851.6 421.0,854.2 423.7,854.2 423.7,856.5 426.3,856.5 426.3,858.6 428.9,858.6 428.9,860.4 431.5,860.4 431.5,862.1 434.1,862.1 434.1,863.8 436.7,863.8 436.7,865.4 439.3,865.4 439.3,866.7 442.0,866.7 442.0,867.3 517.8,867.3 517.8,917.3" fill="rgba(215,195,165,0.10)"/>
<polygon points="581.6,917.3 581.6,864.0 584.8,864.0 584.8,834.2 590.3,834.2 590.3,836.0 592.7,836.0 592.7,844.4 596.0,844.4 596.0,851.6 599.0,851.6 599.0,857.5 601.8,857.5 601.8,863.8 605.1,863.8 605.1,867.3 639.7,867.3 639.7,917.3" fill="rgba(215,195,165,0.10)"/>
<polygon points="709.7,917.3 709.7,834.6 718.8,834.6 718.8,840.7 721.1,840.7 721.1,849.0 724.1,849.0 724.1,855.8 727.2,855.8 727.2,862.7 730.2,862.7 730.2,867.2 742.3,867.2 742.3,862.7 744.6,862.7 744.6,842.2 747.6,842.2 747.6,834.6 850.0,834.6 850.0,842.9 852.3,842.9 852.3,917.3" fill="rgba(215,195,165,0.10)"/>
<polygon points="972.0,917.3 972.0,834.3 981.2,834.3 981.2,838.6 983.6,838.6 983.6,850.1 986.3,850.1 986.3,859.3 989.5,859.3 989.5,867.7 1006.6,867.7 1006.6,917.3" fill="rgba(215,195,165,0.10)"/>
<polygon points="1121.1,917.3 1121.1,834.3 1129.8,834.3 1129.8,839.4 1132.1,839.4 1132.1,848.4 1134.9,848.4 1134.9,857.6 1137.8,857.6 1137.8,865.7 1140.7,865.7 1140.7,867.7 1161.4,867.7 1161.4,917.3" fill="rgba(215,195,165,0.10)"/>
<polygon points="1275.0,917.3 1275.0,882.3 1277.0,882.3 1277.0,834.6 1286.6,834.6 1286.6,845.2 1289.1,845.2 1289.1,854.1 1292.5,854.1 1292.5,863.4 1294.6,863.4 1294.6,867.7 1315.6,867.7 1315.6,917.3" fill="rgba(215,195,165,0.10)"/>
<polygon points="1537.3,917.3 1537.3,853.9 1539.3,853.9 1539.3,834.3 1545.9,834.3 1545.9,837.1 1548.6,837.1 1548.6,849.3 1551.3,849.3 1551.3,860.8 1554.5,860.8 1554.5,867.7 1566.0,867.7 1566.0,917.3" fill="rgba(215,195,165,0.10)"/>
<polyline points="145.3,917.3 191.6,917.3 191.6,875.2 193.1,875.2 193.1,838.8 199.9,838.8 199.9,841.4 217.3,841.4 217.3,843.4 253.4,843.4 253.4,885.4 256.0,885.4 256.0,917.3 357.0,917.3 357.0,873.5 359.6,873.5 359.6,836.9 364.2,836.9 365.5,838.6 366.1,841.6 377.9,841.6 379.2,843.4 518.4,843.4 518.4,885.6 520.4,885.6 520.4,917.3 578.3,917.3 578.3,873.5 580.9,873.5 580.9,837.3 584.2,837.3 586.1,841.8 591.4,841.8 593.3,843.4 640.0,843.4 640.0,883.0 643.0,883.0 643.0,917.3 706.7,917.3 706.7,877.8 709.0,877.8 709.0,836.0 711.2,838.4 712.7,841.4 720.3,842.2 722.6,843.4 741.6,843.4 741.6,801.2 743.1,800.0 745.4,799.0 749.9,799.0 751.4,797.4 850.0,797.4 850.0,879.3 852.3,880.0 853.0,883.1 855.3,883.1 855.3,917.3 969.4,917.3 969.4,875.1 971.1,875.1 971.1,838.6 972.8,838.6 975.1,840.9 979.8,841.7 982.6,843.6 1007.0,843.6 1007.0,885.8 1010.3,885.8 1010.3,917.3 1117.4,917.3 1117.4,875.1 1119.4,875.1 1119.4,838.6 1122.3,838.6 1124.0,841.5 1128.6,841.7 1132.6,843.6 1162.0,843.6 1162.0,885.8 1164.3,885.8 1164.3,917.3 1272.0,917.3 1272.0,873.5 1274.1,873.5 1274.1,836.9 1276.4,836.9 1278.7,841.7 1282.8,841.7 1285.6,843.6 1316.1,843.6 1316.1,885.8 1318.4,885.8 1318.4,917.3 1534.0,917.3 1534.0,875.1 1536.1,875.1 1536.1,838.6 1538.4,838.6 1540.1,841.7 1566.6,841.7 1566.6,885.8 1569.5,885.8 1569.5,917.3" fill="none" stroke="#73BF69" stroke-width="1.6" stroke-linejoin="round"/>
<polyline points="194.6,833.1 204.5,833.1" fill="none" stroke="#FADE2A" stroke-width="1.6" stroke-linejoin="round"/>
<polyline points="363.5,833.4 369.4,833.4" fill="none" stroke="#FADE2A" stroke-width="1.6" stroke-linejoin="round"/>
<polyline points="360.3,877.8 362.6,877.8" fill="none" stroke="#FADE2A" stroke-width="1.6" stroke-linejoin="round"/>
<polyline points="584.8,833.4 590.7,833.4" fill="none" stroke="#FADE2A" stroke-width="1.6" stroke-linejoin="round"/>
<polyline points="581.6,859.6 583.6,859.6" fill="none" stroke="#FADE2A" stroke-width="1.6" stroke-linejoin="round"/>
<polyline points="709.7,833.4 718.8,833.4" fill="none" stroke="#FADE2A" stroke-width="1.6" stroke-linejoin="round"/>
<polyline points="747.6,833.5 850.0,833.5" fill="none" stroke="#FADE2A" stroke-width="1.6" stroke-linejoin="round"/>
<polyline points="971.7,833.4 981.7,833.4" fill="none" stroke="#FADE2A" stroke-width="1.6" stroke-linejoin="round"/>
<polyline points="986.1,860.3 989.0,860.3" fill="none" stroke="#FADE2A" stroke-width="1.6" stroke-linejoin="round"/>
<polyline points="1120.5,833.4 1130.3,833.4" fill="none" stroke="#FADE2A" stroke-width="1.6" stroke-linejoin="round"/>
<polyline points="1277.0,833.4 1284.7,833.4" fill="none" stroke="#FADE2A" stroke-width="1.6" stroke-linejoin="round"/>
<polyline points="1274.6,877.5 1276.8,877.5" fill="none" stroke="#FADE2A" stroke-width="1.6" stroke-linejoin="round"/>
<polyline points="1539.0,833.4 1546.5,833.4" fill="none" stroke="#FADE2A" stroke-width="1.6" stroke-linejoin="round"/>
<polyline points="1536.7,849.5 1539.0,849.5" fill="none" stroke="#FADE2A" stroke-width="1.6" stroke-linejoin="round"/>
<polyline points="1548.6,851.0 1551.0,851.0" fill="none" stroke="#FADE2A" stroke-width="1.6" stroke-linejoin="round"/>
<polyline points="1551.3,862.3 1554.0,862.3" fill="none" stroke="#FADE2A" stroke-width="1.6" stroke-linejoin="round"/>
<polyline points="145.3,917.3 194.6,917.3 194.6,833.8 204.5,833.8 204.5,842.2 206.0,842.2 206.0,853.6 209.0,853.6 209.0,862.7 212.0,862.7 212.0,867.2 253.0,867.2 253.0,917.3 360.3,917.3 360.3,882.4 363.5,882.4 363.5,834.2 371.4,834.2 373.3,834.2 373.3,831.4 375.3,831.4 375.3,829.4 377.9,829.4 377.9,826.8 379.9,826.8 379.9,824.8 381.8,824.8 381.8,823.3 384.4,823.3 384.4,822.0 387.1,822.0 387.1,820.9 389.7,820.9 389.7,820.9 392.3,820.9 392.3,822.9 394.9,822.9 394.9,825.5 397.5,825.5 397.5,828.1 400.1,828.1 400.1,831.4 402.7,831.4 402.7,834.2 405.4,834.2 405.4,837.3 408.0,837.3 408.0,840.5 410.6,840.5 410.6,843.8 413.2,843.8 413.2,846.4 415.8,846.4 415.8,849.0 418.4,849.0 418.4,851.6 421.0,851.6 421.0,854.2 423.7,854.2 423.7,856.5 426.3,856.5 426.3,858.6 428.9,858.6 428.9,860.4 431.5,860.4 431.5,862.1 434.1,862.1 434.1,863.8 436.7,863.8 436.7,865.4 439.3,865.4 439.3,866.7 442.0,866.7 442.0,867.3 517.8,867.3 517.8,917.3 581.6,917.3 581.6,864.0 584.8,864.0 584.8,834.2 590.3,834.2 590.3,836.0 592.7,836.0 592.7,844.4 596.0,844.4 596.0,851.6 599.0,851.6 599.0,857.5 601.8,857.5 601.8,863.8 605.1,863.8 605.1,867.3 639.7,867.3 639.7,917.3 709.7,917.3 709.7,834.6 718.8,834.6 718.8,840.7 721.1,840.7 721.1,849.0 724.1,849.0 724.1,855.8 727.2,855.8 727.2,862.7 730.2,862.7 730.2,867.2 742.3,867.2 742.3,862.7 744.6,862.7 744.6,842.2 747.6,842.2 747.6,834.6 850.0,834.6 850.0,842.9 852.3,842.9 852.3,917.3 972.0,917.3 972.0,834.3 981.2,834.3 981.2,838.6 983.6,838.6 983.6,850.1 986.3,850.1 986.3,859.3 989.5,859.3 989.5,867.7 1006.6,867.7 1006.6,917.3 1121.1,917.3 1121.1,834.3 1129.8,834.3 1129.8,839.4 1132.1,839.4 1132.1,848.4 1134.9,848.4 1134.9,857.6 1137.8,857.6 1137.8,865.7 1140.7,865.7 1140.7,867.7 1161.4,867.7 1161.4,917.3 1275.0,917.3 1275.0,882.3 1277.0,882.3 1277.0,834.6 1286.6,834.6 1286.6,845.2 1289.1,845.2 1289.1,854.1 1292.5,854.1 1292.5,863.4 1294.6,863.4 1294.6,867.7 1315.6,867.7 1315.6,917.3 1537.3,917.3 1537.3,853.9 1539.3,853.9 1539.3,834.3 1545.9,834.3 1545.9,837.1 1548.6,837.1 1548.6,849.3 1551.3,849.3 1551.3,860.8 1554.5,860.8 1554.5,867.7 1566.0,867.7 1566.0,917.3" fill="none" stroke="#8AB8FF" stroke-width="1.6" stroke-linejoin="round"/>
</g>
</svg>
<div class="toast"><div class="ic"><svg width="64" height="54" viewBox="0 0 64 54"><path d="M26.3 27.7 L29.9 31.2 L37.4 23.7" fill="none" stroke="#fff" stroke-width="1.8" stroke-linecap="round" stroke-linejoin="round"/></svg></div>
<div class="msg">Press ESC to exit Kiosk mode</div>
<svg class="x" viewBox="0 0 14 14"><path d="M3.4 3.4 L10.6 10.6 M10.6 3.4 L3.4 10.6" stroke="#d8d9de" stroke-width="1.5" stroke-linecap="round"/></svg></div>
<div class="sb"></div>
<svg width="1700" height="956" style="position:absolute;left:0;top:0;pointer-events:none">
<path d="M856 413.6 L858.8 416.3 L861.6 413.6" fill="none" stroke="#9fa0aa" stroke-width="1.5" stroke-linecap="round" stroke-linejoin="round"/>
<path d="M1679.3 691.3 H1682.3 V688.3" fill="none" stroke="#7a7a80" stroke-width="1.2"/>
<path d="M1157.2 686.8 L1157.2 701.3 L1160.6 701.3 L1163.6 704.1 L1164.7 700.5 L1167.4 697.3 Z" fill="#454547" stroke="#e6e6e6" stroke-width="1.1" stroke-linejoin="round"/>
</svg>
</body></html>
